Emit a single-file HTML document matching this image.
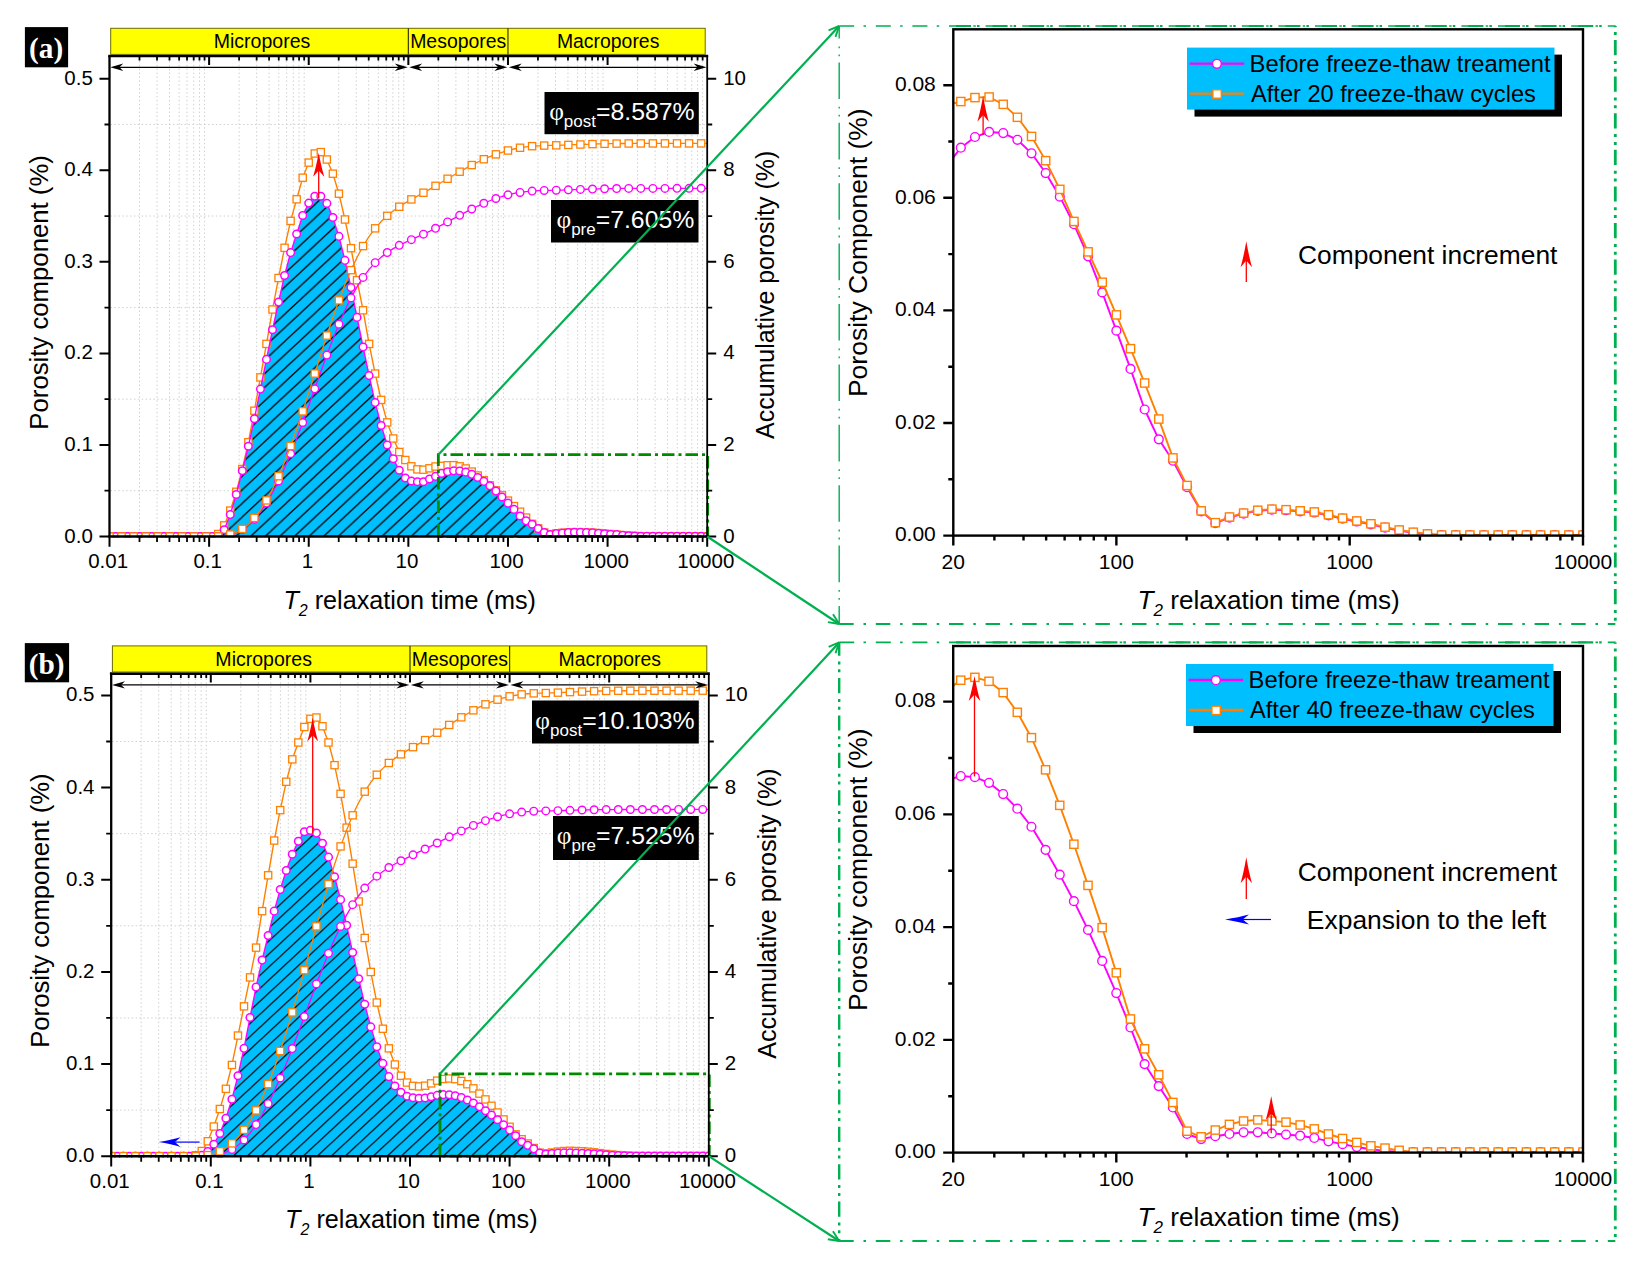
<!DOCTYPE html><html><head><meta charset="utf-8"><title>NMR T2 freeze-thaw</title><style>html,body{margin:0;padding:0;background:#fff}svg{display:block}</style></head><body><svg width="1639" height="1261" viewBox="0 0 1639 1261" font-family="Liberation Sans,sans-serif" fill="#000">
<defs><pattern id="hatcha" x="8.8" y="0" width="14.6" height="13.6" patternUnits="userSpaceOnUse"><path d="M-14.6 13.6L14.6 -13.6M0 13.6L14.6 0M0 27.2L29.2 0" stroke="#000" stroke-width="1.25"/></pattern><pattern id="hatchb" x="8.3" y="0" width="14.0" height="13.0" patternUnits="userSpaceOnUse"><path d="M-14.0 13.0L14.0 -13.0M0 13.0L14.0 0M0 26.0L28.0 0" stroke="#000" stroke-width="1.25"/></pattern></defs>
<rect width="1639" height="1261" fill="#fff"/>
<path d="M839.2 26V624" stroke="#00b050" stroke-width="1.4" stroke-dasharray="36.6 7.8 1.8 6.2 1.8 6.2" stroke-dashoffset="24" fill="none"/>
<path d="M839.2 26H1615.3" stroke="#00b050" stroke-width="1.7" stroke-dasharray="15 9.3 2.5 9.8" fill="none"/>
<path d="M953 26H1615.3" stroke="#00b050" stroke-width="2.2" stroke-dasharray="15 6 2.5 13.1" stroke-dashoffset="-3" fill="none"/>
<path d="M839.2 624H1615.3" stroke="#00b050" stroke-width="2.1" stroke-dasharray="14.5 9.8 2.5 9.8" fill="none"/>
<path d="M1615.3 26V624" stroke="#00b050" stroke-width="2.8" stroke-dasharray="15.2 5.7 3 4.8 3 4.9" stroke-dashoffset="-14" fill="none"/>
<path d="M839.2 642.4V1241" stroke="#00b050" stroke-width="2.4" stroke-dasharray="15.2 5.7 3 4.8 3 5.7" stroke-dashoffset="1.8" fill="none"/>
<path d="M839.2 642.4H1615.3" stroke="#00b050" stroke-width="1.7" stroke-dasharray="15 9.3 2.5 9.8" fill="none"/>
<path d="M953 642.4H1615.3" stroke="#00b050" stroke-width="2.2" stroke-dasharray="15 6 2.5 13.1" stroke-dashoffset="-3" fill="none"/>
<path d="M839.2 1241H1615.3" stroke="#00b050" stroke-width="2.1" stroke-dasharray="14.5 9.8 2.5 9.8" fill="none"/>
<path d="M1615.3 642.4V1241" stroke="#00b050" stroke-width="2.8" stroke-dasharray="15.2 5.7 3 4.8 3 4.9" stroke-dashoffset="-14" fill="none"/>
<path d="M139.49 57V535.5M157.03 57V535.5M169.48 57V535.5M179.13 57V535.5M187.02 57V535.5M193.69 57V535.5M199.46 57V535.5M204.56 57V535.5M239.1 57V535.5M256.65 57V535.5M269.09 57V535.5M278.75 57V535.5M286.63 57V535.5M293.3 57V535.5M299.08 57V535.5M304.18 57V535.5M338.72 57V535.5M356.26 57V535.5M368.71 57V535.5M378.36 57V535.5M386.25 57V535.5M392.92 57V535.5M398.7 57V535.5M403.79 57V535.5M438.34 57V535.5M455.88 57V535.5M468.33 57V535.5M477.98 57V535.5M485.87 57V535.5M492.54 57V535.5M498.31 57V535.5M503.41 57V535.5M537.95 57V535.5M555.5 57V535.5M567.94 57V535.5M577.6 57V535.5M585.48 57V535.5M592.15 57V535.5M597.93 57V535.5M603.03 57V535.5M637.57 57V535.5M655.11 57V535.5M667.56 57V535.5M677.21 57V535.5M685.1 57V535.5M691.77 57V535.5M697.55 57V535.5M702.64 57V535.5M110.5 490.72H706.2M110.5 399.16H706.2M110.5 307.6H706.2M110.5 216.04H706.2M110.5 124.48H706.2" stroke="#d0d0d0" stroke-width="1" stroke-dasharray="1.5 2.4" fill="none"/>
<clipPath id="cla"><rect x="109.5" y="56" width="597.7" height="482"/></clipPath>
<g clip-path="url(#cla)">
<path d="M109.5 536.5L109.5 536.5L115.54 536.5L121.57 536.5L127.61 536.5L133.65 536.5L139.69 536.5L145.72 536.5L151.76 536.5L157.8 536.5L163.84 536.5L169.87 536.5L175.91 536.5L181.95 536.5L187.99 536.5L194.02 536.5L200.06 536.5L206.1 536.5L212.14 536.5L218.17 536.5L224.21 529.8L230.25 514.6L236.28 494.5L242.32 470.7L248.36 446.3L254.4 418.7L260.43 389.1L266.47 359.4L272.51 329.8L278.55 302.1L284.58 275.5L290.62 252.6L296.66 234L302.7 215.5L308.73 203.1L314.77 196.3L320.81 196.3L326.85 203.4L332.88 217.5L338.92 236.4L344.96 260.4L350.99 287.6L357.03 317.4L363.07 347L369.11 375.6L375.14 402.6L381.18 425.5L387.22 445L393.26 458.7L399.29 470.3L405.33 478L411.37 481L417.41 481.8L423.44 481.7L429.48 479L435.52 476.4L441.56 473.42L447.59 471.68L453.63 470.85L459.67 471.03L465.71 472.13L471.74 474.33L477.78 477.54L483.82 481.38L489.85 485.87L495.89 491.09L501.93 496.95L507.97 503.17L514 509.4L520.04 515.99L526.08 520.84L532.12 524.32L538.15 528.63L544.19 532.56L550.23 534.49L556.27 533.57L562.3 532.93L568.34 532.47L574.38 532.29L580.42 532.38L586.45 532.56L592.49 532.75L598.53 533.2L604.56 533.75L610.6 534.21L616.64 534.67L622.68 535.22L628.71 535.68L634.75 536.04L640.79 536.32L646.83 536.41L652.86 536.41L658.9 536.41L664.94 536.41L670.98 536.41L677.01 536.41L683.05 536.41L689.09 536.41L695.13 536.41L701.16 536.41L707.2 536.41L707.2 536.5Z" fill="#00bfff"/>
<path d="M109.5 536.5L109.5 536.5L115.54 536.5L121.57 536.5L127.61 536.5L133.65 536.5L139.69 536.5L145.72 536.5L151.76 536.5L157.8 536.5L163.84 536.5L169.87 536.5L175.91 536.5L181.95 536.5L187.99 536.5L194.02 536.5L200.06 536.5L206.1 536.5L212.14 536.5L218.17 536.5L224.21 529.8L230.25 514.6L236.28 494.5L242.32 470.7L248.36 446.3L254.4 418.7L260.43 389.1L266.47 359.4L272.51 329.8L278.55 302.1L284.58 275.5L290.62 252.6L296.66 234L302.7 215.5L308.73 203.1L314.77 196.3L320.81 196.3L326.85 203.4L332.88 217.5L338.92 236.4L344.96 260.4L350.99 287.6L357.03 317.4L363.07 347L369.11 375.6L375.14 402.6L381.18 425.5L387.22 445L393.26 458.7L399.29 470.3L405.33 478L411.37 481L417.41 481.8L423.44 481.7L429.48 479L435.52 476.4L441.56 473.42L447.59 471.68L453.63 470.85L459.67 471.03L465.71 472.13L471.74 474.33L477.78 477.54L483.82 481.38L489.85 485.87L495.89 491.09L501.93 496.95L507.97 503.17L514 509.4L520.04 515.99L526.08 520.84L532.12 524.32L538.15 528.63L544.19 532.56L550.23 534.49L556.27 533.57L562.3 532.93L568.34 532.47L574.38 532.29L580.42 532.38L586.45 532.56L592.49 532.75L598.53 533.2L604.56 533.75L610.6 534.21L616.64 534.67L622.68 535.22L628.71 535.68L634.75 536.04L640.79 536.32L646.83 536.41L652.86 536.41L658.9 536.41L664.94 536.41L670.98 536.41L677.01 536.41L683.05 536.41L689.09 536.41L695.13 536.41L701.16 536.41L707.2 536.41L707.2 536.5Z" fill="url(#hatcha)"/>
<polyline fill="none" stroke="#ff8000" stroke-width="1.4" stroke-linejoin="round" points="109.5,536.5 115.54,536.5 121.57,536.5 127.61,536.5 133.65,536.5 139.69,536.5 145.72,536.5 151.76,536.5 157.8,536.5 163.84,536.5 169.87,536.5 175.91,536.5 181.95,536.5 187.99,536.5 194.02,536.5 200.06,536.5 206.1,536.5 212.14,536.5 218.17,534 224.21,525.4 230.25,510.6 236.28,491.8 242.32,469 248.36,442.2 254.4,410.7 260.43,377.4 266.47,343.9 272.51,309.5 278.55,278 284.58,247.8 290.62,220.9 296.66,199.3 302.7,177.7 308.73,162.6 314.77,153.5 320.81,152.1 326.85,159.5 332.88,173.7 338.92,193.7 344.96,219.5 350.99,248.2 357.03,280.2 363.07,310.3 369.11,343.9 375.14,373.6 381.18,399.9 387.22,422.4 393.26,438.5 399.29,452 405.33,460 411.37,466.3 417.41,469.4 423.44,469.7 429.48,468.3 435.52,466.5 441.56,465.91 447.59,465.27 453.63,465.17 459.67,466.37 465.71,468.47 471.74,471.58 477.78,475.52 483.82,480.19 489.85,485.41 495.89,490.35 501.93,495.3 507.97,500.61 514,506.1 520.04,511.69 526.08,517.55 532.12,523.86 538.15,528.35 544.19,532.47 550.23,534.39 556.27,533.48 562.3,532.84 568.34,532.38 574.38,532.2 580.42,532.29 586.45,532.47 592.49,532.65 598.53,533.11 604.56,533.66 610.6,534.12 616.64,534.58 622.68,535.13 628.71,535.58 634.75,535.95 640.79,536.23 646.83,536.41 652.86,536.41 658.9,536.41 664.94,536.41 670.98,536.41 677.01,536.41 683.05,536.41 689.09,536.41 695.13,536.41 701.16,536.41 707.2,536.41"/>
<g fill="#fff" stroke="#ff8000" stroke-width="1.3"><rect x="105.9" y="532.9" width="7.2" height="7.2"/><rect x="111.94" y="532.9" width="7.2" height="7.2"/><rect x="117.97" y="532.9" width="7.2" height="7.2"/><rect x="124.01" y="532.9" width="7.2" height="7.2"/><rect x="130.05" y="532.9" width="7.2" height="7.2"/><rect x="136.09" y="532.9" width="7.2" height="7.2"/><rect x="142.12" y="532.9" width="7.2" height="7.2"/><rect x="148.16" y="532.9" width="7.2" height="7.2"/><rect x="154.2" y="532.9" width="7.2" height="7.2"/><rect x="160.24" y="532.9" width="7.2" height="7.2"/><rect x="166.27" y="532.9" width="7.2" height="7.2"/><rect x="172.31" y="532.9" width="7.2" height="7.2"/><rect x="178.35" y="532.9" width="7.2" height="7.2"/><rect x="184.39" y="532.9" width="7.2" height="7.2"/><rect x="190.42" y="532.9" width="7.2" height="7.2"/><rect x="196.46" y="532.9" width="7.2" height="7.2"/><rect x="202.5" y="532.9" width="7.2" height="7.2"/><rect x="208.54" y="532.9" width="7.2" height="7.2"/><rect x="214.57" y="530.4" width="7.2" height="7.2"/><rect x="220.61" y="521.8" width="7.2" height="7.2"/><rect x="226.65" y="507" width="7.2" height="7.2"/><rect x="232.68" y="488.2" width="7.2" height="7.2"/><rect x="238.72" y="465.4" width="7.2" height="7.2"/><rect x="244.76" y="438.6" width="7.2" height="7.2"/><rect x="250.8" y="407.1" width="7.2" height="7.2"/><rect x="256.83" y="373.8" width="7.2" height="7.2"/><rect x="262.87" y="340.3" width="7.2" height="7.2"/><rect x="268.91" y="305.9" width="7.2" height="7.2"/><rect x="274.95" y="274.4" width="7.2" height="7.2"/><rect x="280.98" y="244.2" width="7.2" height="7.2"/><rect x="287.02" y="217.3" width="7.2" height="7.2"/><rect x="293.06" y="195.7" width="7.2" height="7.2"/><rect x="299.1" y="174.1" width="7.2" height="7.2"/><rect x="305.13" y="159" width="7.2" height="7.2"/><rect x="311.17" y="149.9" width="7.2" height="7.2"/><rect x="317.21" y="148.5" width="7.2" height="7.2"/><rect x="323.25" y="155.9" width="7.2" height="7.2"/><rect x="329.28" y="170.1" width="7.2" height="7.2"/><rect x="335.32" y="190.1" width="7.2" height="7.2"/><rect x="341.36" y="215.9" width="7.2" height="7.2"/><rect x="347.39" y="244.6" width="7.2" height="7.2"/><rect x="353.43" y="276.6" width="7.2" height="7.2"/><rect x="359.47" y="306.7" width="7.2" height="7.2"/><rect x="365.51" y="340.3" width="7.2" height="7.2"/><rect x="371.54" y="370" width="7.2" height="7.2"/><rect x="377.58" y="396.3" width="7.2" height="7.2"/><rect x="383.62" y="418.8" width="7.2" height="7.2"/><rect x="389.66" y="434.9" width="7.2" height="7.2"/><rect x="395.69" y="448.4" width="7.2" height="7.2"/><rect x="401.73" y="456.4" width="7.2" height="7.2"/><rect x="407.77" y="462.7" width="7.2" height="7.2"/><rect x="413.81" y="465.8" width="7.2" height="7.2"/><rect x="419.84" y="466.1" width="7.2" height="7.2"/><rect x="425.88" y="464.7" width="7.2" height="7.2"/><rect x="431.92" y="462.9" width="7.2" height="7.2"/><rect x="437.96" y="462.31" width="7.2" height="7.2"/><rect x="443.99" y="461.67" width="7.2" height="7.2"/><rect x="450.03" y="461.57" width="7.2" height="7.2"/><rect x="456.07" y="462.77" width="7.2" height="7.2"/><rect x="462.11" y="464.87" width="7.2" height="7.2"/><rect x="468.14" y="467.98" width="7.2" height="7.2"/><rect x="474.18" y="471.92" width="7.2" height="7.2"/><rect x="480.22" y="476.59" width="7.2" height="7.2"/><rect x="486.25" y="481.81" width="7.2" height="7.2"/><rect x="492.29" y="486.75" width="7.2" height="7.2"/><rect x="498.33" y="491.7" width="7.2" height="7.2"/><rect x="504.37" y="497.01" width="7.2" height="7.2"/><rect x="510.4" y="502.5" width="7.2" height="7.2"/><rect x="516.44" y="508.09" width="7.2" height="7.2"/><rect x="522.48" y="513.95" width="7.2" height="7.2"/><rect x="528.52" y="520.26" width="7.2" height="7.2"/><rect x="534.55" y="524.75" width="7.2" height="7.2"/><rect x="540.59" y="528.87" width="7.2" height="7.2"/><rect x="546.63" y="530.79" width="7.2" height="7.2"/><rect x="552.67" y="529.88" width="7.2" height="7.2"/><rect x="558.7" y="529.24" width="7.2" height="7.2"/><rect x="564.74" y="528.78" width="7.2" height="7.2"/><rect x="570.78" y="528.6" width="7.2" height="7.2"/><rect x="576.82" y="528.69" width="7.2" height="7.2"/><rect x="582.85" y="528.87" width="7.2" height="7.2"/><rect x="588.89" y="529.05" width="7.2" height="7.2"/><rect x="594.93" y="529.51" width="7.2" height="7.2"/><rect x="600.96" y="530.06" width="7.2" height="7.2"/><rect x="607" y="530.52" width="7.2" height="7.2"/><rect x="613.04" y="530.98" width="7.2" height="7.2"/><rect x="619.08" y="531.53" width="7.2" height="7.2"/><rect x="625.11" y="531.98" width="7.2" height="7.2"/><rect x="631.15" y="532.35" width="7.2" height="7.2"/><rect x="637.19" y="532.63" width="7.2" height="7.2"/><rect x="643.23" y="532.81" width="7.2" height="7.2"/><rect x="649.26" y="532.81" width="7.2" height="7.2"/><rect x="655.3" y="532.81" width="7.2" height="7.2"/><rect x="661.34" y="532.81" width="7.2" height="7.2"/><rect x="667.38" y="532.81" width="7.2" height="7.2"/><rect x="673.41" y="532.81" width="7.2" height="7.2"/><rect x="679.45" y="532.81" width="7.2" height="7.2"/><rect x="685.49" y="532.81" width="7.2" height="7.2"/><rect x="691.53" y="532.81" width="7.2" height="7.2"/><rect x="697.56" y="532.81" width="7.2" height="7.2"/><rect x="703.6" y="532.81" width="7.2" height="7.2"/></g>
<polyline fill="none" stroke="#ff00ff" stroke-width="1.4" stroke-linejoin="round" points="109.5,536.5 115.54,536.5 121.57,536.5 127.61,536.5 133.65,536.5 139.69,536.5 145.72,536.5 151.76,536.5 157.8,536.5 163.84,536.5 169.87,536.5 175.91,536.5 181.95,536.5 187.99,536.5 194.02,536.5 200.06,536.5 206.1,536.5 212.14,536.5 218.17,536.5 224.21,529.8 230.25,514.6 236.28,494.5 242.32,470.7 248.36,446.3 254.4,418.7 260.43,389.1 266.47,359.4 272.51,329.8 278.55,302.1 284.58,275.5 290.62,252.6 296.66,234 302.7,215.5 308.73,203.1 314.77,196.3 320.81,196.3 326.85,203.4 332.88,217.5 338.92,236.4 344.96,260.4 350.99,287.6 357.03,317.4 363.07,347 369.11,375.6 375.14,402.6 381.18,425.5 387.22,445 393.26,458.7 399.29,470.3 405.33,478 411.37,481 417.41,481.8 423.44,481.7 429.48,479 435.52,476.4 441.56,473.42 447.59,471.68 453.63,470.85 459.67,471.03 465.71,472.13 471.74,474.33 477.78,477.54 483.82,481.38 489.85,485.87 495.89,491.09 501.93,496.95 507.97,503.17 514,509.4 520.04,515.99 526.08,520.84 532.12,524.32 538.15,528.63 544.19,532.56 550.23,534.49 556.27,533.57 562.3,532.93 568.34,532.47 574.38,532.29 580.42,532.38 586.45,532.56 592.49,532.75 598.53,533.2 604.56,533.75 610.6,534.21 616.64,534.67 622.68,535.22 628.71,535.68 634.75,536.04 640.79,536.32 646.83,536.41 652.86,536.41 658.9,536.41 664.94,536.41 670.98,536.41 677.01,536.41 683.05,536.41 689.09,536.41 695.13,536.41 701.16,536.41 707.2,536.41"/>
<g fill="#fff" stroke="#ff00ff" stroke-width="1.5"><circle cx="109.5" cy="536.5" r="3.8"/><circle cx="115.54" cy="536.5" r="3.8"/><circle cx="121.57" cy="536.5" r="3.8"/><circle cx="127.61" cy="536.5" r="3.8"/><circle cx="133.65" cy="536.5" r="3.8"/><circle cx="139.69" cy="536.5" r="3.8"/><circle cx="145.72" cy="536.5" r="3.8"/><circle cx="151.76" cy="536.5" r="3.8"/><circle cx="157.8" cy="536.5" r="3.8"/><circle cx="163.84" cy="536.5" r="3.8"/><circle cx="169.87" cy="536.5" r="3.8"/><circle cx="175.91" cy="536.5" r="3.8"/><circle cx="181.95" cy="536.5" r="3.8"/><circle cx="187.99" cy="536.5" r="3.8"/><circle cx="194.02" cy="536.5" r="3.8"/><circle cx="200.06" cy="536.5" r="3.8"/><circle cx="206.1" cy="536.5" r="3.8"/><circle cx="212.14" cy="536.5" r="3.8"/><circle cx="218.17" cy="536.5" r="3.8"/><circle cx="224.21" cy="529.8" r="3.8"/><circle cx="230.25" cy="514.6" r="3.8"/><circle cx="236.28" cy="494.5" r="3.8"/><circle cx="242.32" cy="470.7" r="3.8"/><circle cx="248.36" cy="446.3" r="3.8"/><circle cx="254.4" cy="418.7" r="3.8"/><circle cx="260.43" cy="389.1" r="3.8"/><circle cx="266.47" cy="359.4" r="3.8"/><circle cx="272.51" cy="329.8" r="3.8"/><circle cx="278.55" cy="302.1" r="3.8"/><circle cx="284.58" cy="275.5" r="3.8"/><circle cx="290.62" cy="252.6" r="3.8"/><circle cx="296.66" cy="234" r="3.8"/><circle cx="302.7" cy="215.5" r="3.8"/><circle cx="308.73" cy="203.1" r="3.8"/><circle cx="314.77" cy="196.3" r="3.8"/><circle cx="320.81" cy="196.3" r="3.8"/><circle cx="326.85" cy="203.4" r="3.8"/><circle cx="332.88" cy="217.5" r="3.8"/><circle cx="338.92" cy="236.4" r="3.8"/><circle cx="344.96" cy="260.4" r="3.8"/><circle cx="350.99" cy="287.6" r="3.8"/><circle cx="357.03" cy="317.4" r="3.8"/><circle cx="363.07" cy="347" r="3.8"/><circle cx="369.11" cy="375.6" r="3.8"/><circle cx="375.14" cy="402.6" r="3.8"/><circle cx="381.18" cy="425.5" r="3.8"/><circle cx="387.22" cy="445" r="3.8"/><circle cx="393.26" cy="458.7" r="3.8"/><circle cx="399.29" cy="470.3" r="3.8"/><circle cx="405.33" cy="478" r="3.8"/><circle cx="411.37" cy="481" r="3.8"/><circle cx="417.41" cy="481.8" r="3.8"/><circle cx="423.44" cy="481.7" r="3.8"/><circle cx="429.48" cy="479" r="3.8"/><circle cx="435.52" cy="476.4" r="3.8"/><circle cx="441.56" cy="473.42" r="3.8"/><circle cx="447.59" cy="471.68" r="3.8"/><circle cx="453.63" cy="470.85" r="3.8"/><circle cx="459.67" cy="471.03" r="3.8"/><circle cx="465.71" cy="472.13" r="3.8"/><circle cx="471.74" cy="474.33" r="3.8"/><circle cx="477.78" cy="477.54" r="3.8"/><circle cx="483.82" cy="481.38" r="3.8"/><circle cx="489.85" cy="485.87" r="3.8"/><circle cx="495.89" cy="491.09" r="3.8"/><circle cx="501.93" cy="496.95" r="3.8"/><circle cx="507.97" cy="503.17" r="3.8"/><circle cx="514" cy="509.4" r="3.8"/><circle cx="520.04" cy="515.99" r="3.8"/><circle cx="526.08" cy="520.84" r="3.8"/><circle cx="532.12" cy="524.32" r="3.8"/><circle cx="538.15" cy="528.63" r="3.8"/><circle cx="544.19" cy="532.56" r="3.8"/><circle cx="550.23" cy="534.49" r="3.8"/><circle cx="556.27" cy="533.57" r="3.8"/><circle cx="562.3" cy="532.93" r="3.8"/><circle cx="568.34" cy="532.47" r="3.8"/><circle cx="574.38" cy="532.29" r="3.8"/><circle cx="580.42" cy="532.38" r="3.8"/><circle cx="586.45" cy="532.56" r="3.8"/><circle cx="592.49" cy="532.75" r="3.8"/><circle cx="598.53" cy="533.2" r="3.8"/><circle cx="604.56" cy="533.75" r="3.8"/><circle cx="610.6" cy="534.21" r="3.8"/><circle cx="616.64" cy="534.67" r="3.8"/><circle cx="622.68" cy="535.22" r="3.8"/><circle cx="628.71" cy="535.68" r="3.8"/><circle cx="634.75" cy="536.04" r="3.8"/><circle cx="640.79" cy="536.32" r="3.8"/><circle cx="646.83" cy="536.41" r="3.8"/><circle cx="652.86" cy="536.41" r="3.8"/><circle cx="658.9" cy="536.41" r="3.8"/><circle cx="664.94" cy="536.41" r="3.8"/><circle cx="670.98" cy="536.41" r="3.8"/><circle cx="677.01" cy="536.41" r="3.8"/><circle cx="683.05" cy="536.41" r="3.8"/><circle cx="689.09" cy="536.41" r="3.8"/><circle cx="695.13" cy="536.41" r="3.8"/><circle cx="701.16" cy="536.41" r="3.8"/><circle cx="707.2" cy="536.41" r="3.8"/></g>
<polyline fill="none" stroke="#ff00ff" stroke-width="1.3" stroke-linejoin="round" points="109.5,536.5 115.54,536.5 121.57,536.5 127.61,536.5 133.65,536.5 139.69,536.5 145.72,536.5 151.76,536.5 157.8,536.5 163.84,536.5 169.87,536.5 175.91,536.5 181.95,536.5 187.99,536.5 194.02,536.5 200.06,536.5 206.1,536.5 212.14,536.5 218.17,536.5 224.21,536.16 230.25,535.07 236.28,532.97 242.32,529.68 248.36,525.16 254.4,519.27 260.43,511.89 266.47,503.03 272.51,492.69 278.55,480.96 284.58,467.91 290.62,453.7 296.66,438.57 302.7,422.51 308.73,405.83 314.77,388.81 320.81,371.79 326.85,355.12 332.88,339.16 338.92,324.15 344.96,310.33 350.99,297.88 357.03,286.92 363.07,277.44 369.11,269.39 375.14,262.69 381.18,257.13 387.22,252.55 393.26,248.66 399.29,245.35 405.33,242.42 411.37,239.65 417.41,236.91 423.44,234.17 429.48,231.29 435.52,228.28 441.56,225.13 447.59,221.88 453.63,218.6 459.67,215.32 465.71,212.1 471.74,208.99 477.78,206.04 483.82,203.29 489.85,200.75 495.89,198.48 501.93,196.5 507.97,194.83 514,193.48 520.04,192.45 526.08,191.67 532.12,191.06 538.15,190.67 544.19,190.47 550.23,190.37 556.27,190.22 562.3,190.04 568.34,189.84 574.38,189.63 580.42,189.42 586.45,189.23 592.49,189.04 598.53,188.87 604.56,188.74 610.6,188.62 616.64,188.53 622.68,188.47 628.71,188.43 634.75,188.4 640.79,188.39 646.83,188.39 652.86,188.38 658.9,188.38 664.94,188.38 670.98,188.37 677.01,188.37 683.05,188.36 689.09,188.36 695.13,188.35 701.16,188.35 707.2,188.34"/>
<g fill="#fff" stroke="#ff00ff" stroke-width="1.4"><circle cx="109.5" cy="536.5" r="3.8"/><circle cx="121.57" cy="536.5" r="3.8"/><circle cx="133.65" cy="536.5" r="3.8"/><circle cx="145.72" cy="536.5" r="3.8"/><circle cx="157.8" cy="536.5" r="3.8"/><circle cx="169.87" cy="536.5" r="3.8"/><circle cx="181.95" cy="536.5" r="3.8"/><circle cx="194.02" cy="536.5" r="3.8"/><circle cx="206.1" cy="536.5" r="3.8"/><circle cx="218.17" cy="536.5" r="3.8"/><circle cx="230.25" cy="535.07" r="3.8"/><circle cx="242.32" cy="529.68" r="3.8"/><circle cx="254.4" cy="519.27" r="3.8"/><circle cx="266.47" cy="503.03" r="3.8"/><circle cx="278.55" cy="480.96" r="3.8"/><circle cx="290.62" cy="453.7" r="3.8"/><circle cx="302.7" cy="422.51" r="3.8"/><circle cx="314.77" cy="388.81" r="3.8"/><circle cx="326.85" cy="355.12" r="3.8"/><circle cx="338.92" cy="324.15" r="3.8"/><circle cx="350.99" cy="297.88" r="3.8"/><circle cx="363.07" cy="277.44" r="3.8"/><circle cx="375.14" cy="262.69" r="3.8"/><circle cx="387.22" cy="252.55" r="3.8"/><circle cx="399.29" cy="245.35" r="3.8"/><circle cx="411.37" cy="239.65" r="3.8"/><circle cx="423.44" cy="234.17" r="3.8"/><circle cx="435.52" cy="228.28" r="3.8"/><circle cx="447.59" cy="221.88" r="3.8"/><circle cx="459.67" cy="215.32" r="3.8"/><circle cx="471.74" cy="208.99" r="3.8"/><circle cx="483.82" cy="203.29" r="3.8"/><circle cx="495.89" cy="198.48" r="3.8"/><circle cx="507.97" cy="194.83" r="3.8"/><circle cx="520.04" cy="192.45" r="3.8"/><circle cx="532.12" cy="191.06" r="3.8"/><circle cx="544.19" cy="190.47" r="3.8"/><circle cx="556.27" cy="190.22" r="3.8"/><circle cx="568.34" cy="189.84" r="3.8"/><circle cx="580.42" cy="189.42" r="3.8"/><circle cx="592.49" cy="189.04" r="3.8"/><circle cx="604.56" cy="188.74" r="3.8"/><circle cx="616.64" cy="188.53" r="3.8"/><circle cx="628.71" cy="188.43" r="3.8"/><circle cx="640.79" cy="188.39" r="3.8"/><circle cx="652.86" cy="188.38" r="3.8"/><circle cx="664.94" cy="188.38" r="3.8"/><circle cx="677.01" cy="188.37" r="3.8"/><circle cx="689.09" cy="188.36" r="3.8"/><circle cx="701.16" cy="188.35" r="3.8"/></g>
<polyline fill="none" stroke="#ff8000" stroke-width="1.3" stroke-linejoin="round" points="109.5,536.5 115.54,536.5 121.57,536.5 127.61,536.5 133.65,536.5 139.69,536.5 145.72,536.5 151.76,536.5 157.8,536.5 163.84,536.5 169.87,536.5 175.91,536.5 181.95,536.5 187.99,536.5 194.02,536.5 200.06,536.5 206.1,536.5 212.14,536.5 218.17,536.38 224.21,535.82 230.25,534.53 236.28,532.3 242.32,528.93 248.36,524.23 254.4,517.95 260.43,510.01 266.47,500.4 272.51,489.08 278.55,476.18 284.58,461.78 290.62,446.03 296.66,429.21 302.7,411.31 308.73,392.65 314.77,373.54 320.81,354.36 326.85,335.55 332.88,317.45 338.92,300.35 344.96,284.54 350.99,270.15 357.03,257.36 363.07,246.08 369.11,236.47 375.14,228.34 381.18,221.53 387.22,215.83 393.26,210.94 399.29,206.73 405.33,202.91 411.37,199.41 417.41,196.06 423.44,192.73 429.48,189.33 435.52,185.83 441.56,182.31 447.59,178.76 453.63,175.2 459.67,171.7 465.71,168.31 471.74,165.07 477.78,162.03 483.82,159.22 489.85,156.67 495.89,154.36 501.93,152.31 507.97,150.52 514,149 520.04,147.76 526.08,146.82 532.12,146.19 538.15,145.78 544.19,145.58 550.23,145.47 556.27,145.32 562.3,145.14 568.34,144.94 574.38,144.72 580.42,144.51 586.45,144.31 592.49,144.12 598.53,143.95 604.56,143.81 610.6,143.69 616.64,143.59 622.68,143.52 628.71,143.48 634.75,143.45 640.79,143.44 646.83,143.43 652.86,143.43 658.9,143.42 664.94,143.42 670.98,143.41 677.01,143.41 683.05,143.41 689.09,143.4 695.13,143.4 701.16,143.39 707.2,143.39"/>
<g fill="#fff" stroke="#ff8000" stroke-width="1.3"><rect x="105.9" y="532.9" width="7.2" height="7.2"/><rect x="117.97" y="532.9" width="7.2" height="7.2"/><rect x="130.05" y="532.9" width="7.2" height="7.2"/><rect x="142.12" y="532.9" width="7.2" height="7.2"/><rect x="154.2" y="532.9" width="7.2" height="7.2"/><rect x="166.27" y="532.9" width="7.2" height="7.2"/><rect x="178.35" y="532.9" width="7.2" height="7.2"/><rect x="190.42" y="532.9" width="7.2" height="7.2"/><rect x="202.5" y="532.9" width="7.2" height="7.2"/><rect x="214.57" y="532.78" width="7.2" height="7.2"/><rect x="226.65" y="530.93" width="7.2" height="7.2"/><rect x="238.72" y="525.33" width="7.2" height="7.2"/><rect x="250.8" y="514.35" width="7.2" height="7.2"/><rect x="262.87" y="496.8" width="7.2" height="7.2"/><rect x="274.95" y="472.58" width="7.2" height="7.2"/><rect x="287.02" y="442.43" width="7.2" height="7.2"/><rect x="299.1" y="407.71" width="7.2" height="7.2"/><rect x="311.17" y="369.94" width="7.2" height="7.2"/><rect x="323.25" y="331.95" width="7.2" height="7.2"/><rect x="335.32" y="296.75" width="7.2" height="7.2"/><rect x="347.39" y="266.55" width="7.2" height="7.2"/><rect x="359.47" y="242.48" width="7.2" height="7.2"/><rect x="371.54" y="224.74" width="7.2" height="7.2"/><rect x="383.62" y="212.23" width="7.2" height="7.2"/><rect x="395.69" y="203.13" width="7.2" height="7.2"/><rect x="407.77" y="195.81" width="7.2" height="7.2"/><rect x="419.84" y="189.13" width="7.2" height="7.2"/><rect x="431.92" y="182.23" width="7.2" height="7.2"/><rect x="443.99" y="175.16" width="7.2" height="7.2"/><rect x="456.07" y="168.1" width="7.2" height="7.2"/><rect x="468.14" y="161.47" width="7.2" height="7.2"/><rect x="480.22" y="155.62" width="7.2" height="7.2"/><rect x="492.29" y="150.76" width="7.2" height="7.2"/><rect x="504.37" y="146.92" width="7.2" height="7.2"/><rect x="516.44" y="144.16" width="7.2" height="7.2"/><rect x="528.52" y="142.59" width="7.2" height="7.2"/><rect x="540.59" y="141.98" width="7.2" height="7.2"/><rect x="552.67" y="141.72" width="7.2" height="7.2"/><rect x="564.74" y="141.34" width="7.2" height="7.2"/><rect x="576.82" y="140.91" width="7.2" height="7.2"/><rect x="588.89" y="140.52" width="7.2" height="7.2"/><rect x="600.96" y="140.21" width="7.2" height="7.2"/><rect x="613.04" y="139.99" width="7.2" height="7.2"/><rect x="625.11" y="139.88" width="7.2" height="7.2"/><rect x="637.19" y="139.84" width="7.2" height="7.2"/><rect x="649.26" y="139.83" width="7.2" height="7.2"/><rect x="661.34" y="139.82" width="7.2" height="7.2"/><rect x="673.41" y="139.81" width="7.2" height="7.2"/><rect x="685.49" y="139.8" width="7.2" height="7.2"/><rect x="697.56" y="139.79" width="7.2" height="7.2"/></g>
</g>
<path d="M438.34 536.5V454.65H707.7V536.5Z" fill="none" stroke="#008a00" stroke-width="2.8" stroke-dasharray="12.5 4 3 4"/>
<path d="M108.2 56H708.2" stroke="#000" stroke-width="2.6" fill="none"/>
<path d="M108.2 536.5H708.2" stroke="#000" stroke-width="2.5" fill="none"/>
<path d="M109.5 56V536.5" stroke="#000" stroke-width="2.3" fill="none"/>
<path d="M707.2 56V536.5" stroke="#000" stroke-width="1.8" fill="none"/>
<path d="M109.5 536.5v10.3M209.12 536.5v10.3M209.12 56v9M308.73 536.5v10.3M308.73 56v9M408.35 536.5v10.3M408.35 56v9M507.97 536.5v10.3M507.97 56v9M607.58 536.5v10.3M607.58 56v9M707.2 536.5v10.3M109.5 536.5h-10M707.2 536.5h9M109.5 444.94h-10M707.2 444.94h9M109.5 353.38h-10M707.2 353.38h9M109.5 261.82h-10M707.2 261.82h9M109.5 170.26h-10M707.2 170.26h9M109.5 78.7h-10M707.2 78.7h9" stroke="#000" stroke-width="2" fill="none"/>
<path d="M139.49 536.5v5.5M139.49 56v4.5M157.03 536.5v5.5M157.03 56v4.5M169.48 536.5v5.5M169.48 56v4.5M179.13 536.5v5.5M179.13 56v4.5M187.02 536.5v5.5M187.02 56v4.5M193.69 536.5v5.5M193.69 56v4.5M199.46 536.5v5.5M199.46 56v4.5M204.56 536.5v5.5M204.56 56v4.5M239.1 536.5v5.5M239.1 56v4.5M256.65 536.5v5.5M256.65 56v4.5M269.09 536.5v5.5M269.09 56v4.5M278.75 536.5v5.5M278.75 56v4.5M286.63 536.5v5.5M286.63 56v4.5M293.3 536.5v5.5M293.3 56v4.5M299.08 536.5v5.5M299.08 56v4.5M304.18 536.5v5.5M304.18 56v4.5M338.72 536.5v5.5M338.72 56v4.5M356.26 536.5v5.5M356.26 56v4.5M368.71 536.5v5.5M368.71 56v4.5M378.36 536.5v5.5M378.36 56v4.5M386.25 536.5v5.5M386.25 56v4.5M392.92 536.5v5.5M392.92 56v4.5M398.7 536.5v5.5M398.7 56v4.5M403.79 536.5v5.5M403.79 56v4.5M438.34 536.5v5.5M438.34 56v4.5M455.88 536.5v5.5M455.88 56v4.5M468.33 536.5v5.5M468.33 56v4.5M477.98 536.5v5.5M477.98 56v4.5M485.87 536.5v5.5M485.87 56v4.5M492.54 536.5v5.5M492.54 56v4.5M498.31 536.5v5.5M498.31 56v4.5M503.41 536.5v5.5M503.41 56v4.5M537.95 536.5v5.5M537.95 56v4.5M555.5 536.5v5.5M555.5 56v4.5M567.94 536.5v5.5M567.94 56v4.5M577.6 536.5v5.5M577.6 56v4.5M585.48 536.5v5.5M585.48 56v4.5M592.15 536.5v5.5M592.15 56v4.5M597.93 536.5v5.5M597.93 56v4.5M603.03 536.5v5.5M603.03 56v4.5M637.57 536.5v5.5M637.57 56v4.5M655.11 536.5v5.5M655.11 56v4.5M667.56 536.5v5.5M667.56 56v4.5M677.21 536.5v5.5M677.21 56v4.5M685.1 536.5v5.5M685.1 56v4.5M691.77 536.5v5.5M691.77 56v4.5M697.55 536.5v5.5M697.55 56v4.5M702.64 536.5v5.5M702.64 56v4.5M109.5 490.72h-5M707.2 490.72h5M109.5 399.16h-5M707.2 399.16h5M109.5 307.6h-5M707.2 307.6h5M109.5 216.04h-5M707.2 216.04h5M109.5 124.48h-5M707.2 124.48h5" stroke="#000" stroke-width="1.8" fill="none"/>
<text x="92.8" y="542.5" font-size="20.5" text-anchor="end">0.0</text>
<text x="92.8" y="450.94" font-size="20.5" text-anchor="end">0.1</text>
<text x="92.8" y="359.38" font-size="20.5" text-anchor="end">0.2</text>
<text x="92.8" y="267.82" font-size="20.5" text-anchor="end">0.3</text>
<text x="92.8" y="176.26" font-size="20.5" text-anchor="end">0.4</text>
<text x="92.8" y="84.7" font-size="20.5" text-anchor="end">0.5</text>
<text x="723.2" y="542.5" font-size="20.5">0</text>
<text x="723.2" y="450.94" font-size="20.5">2</text>
<text x="723.2" y="359.38" font-size="20.5">4</text>
<text x="723.2" y="267.82" font-size="20.5">6</text>
<text x="723.2" y="176.26" font-size="20.5">8</text>
<text x="723.2" y="84.7" font-size="20.5">10</text>
<text x="108.1" y="568.1" font-size="20.5" text-anchor="middle">0.01</text>
<text x="207.72" y="568.1" font-size="20.5" text-anchor="middle">0.1</text>
<text x="307.33" y="568.1" font-size="20.5" text-anchor="middle">1</text>
<text x="406.95" y="568.1" font-size="20.5" text-anchor="middle">10</text>
<text x="506.57" y="568.1" font-size="20.5" text-anchor="middle">100</text>
<text x="606.18" y="568.1" font-size="20.5" text-anchor="middle">1000</text>
<text x="705.8" y="568.1" font-size="20.5" text-anchor="middle">10000</text>
<text transform="translate(47.5,292.1) rotate(-90)" x="-137.56" y="0" font-size="25" textLength="274.5" lengthAdjust="spacingAndGlyphs">Porosity component (%)</text>
<text transform="translate(774.2,295.6) rotate(-90)" x="-143.3" y="0" font-size="25" textLength="288.08" lengthAdjust="spacingAndGlyphs">Accumulative porosity (%)</text>
<text x="283.43" y="608.6" font-size="25.2"><tspan font-style="italic">T</tspan><tspan font-size="16" font-style="italic" dy="7">2</tspan><tspan dy="-7"> relaxation time (ms)</tspan></text>
<rect x="110.7" y="28.3" width="594.5" height="26.1" fill="#ffff00" stroke="#6b6b00" stroke-width="1"/>
<path d="M408.35 28.3V54.4M507.97 28.3V54.4" stroke="#3a3a00" stroke-width="1.2"/>
<text x="213.71" y="48.1" font-size="19.4" textLength="96.57" lengthAdjust="spacingAndGlyphs">Micropores</text>
<text x="410.2" y="48.1" font-size="19.4" textLength="96.07" lengthAdjust="spacingAndGlyphs">Mesopores</text>
<text x="556.93" y="48.1" font-size="19.4" textLength="102.43" lengthAdjust="spacingAndGlyphs">Macropores</text>
<path d="M114.3 67.3H403.75" stroke="#000" stroke-width="1.2"/>
<path d="M110.3 67.3 L123.3 63.6 L119.4 67.3 L123.3 71 Z" fill="#000"/>
<path d="M407.75 67.3 L394.75 63.6 L398.65 67.3 L394.75 71 Z" fill="#000"/>
<path d="M413.15 67.3H503.37" stroke="#000" stroke-width="1.2"/>
<path d="M409.15 67.3 L422.15 63.6 L418.25 67.3 L422.15 71 Z" fill="#000"/>
<path d="M507.37 67.3 L494.37 63.6 L498.27 67.3 L494.37 71 Z" fill="#000"/>
<path d="M512.77 67.3H702.6" stroke="#000" stroke-width="1.2"/>
<path d="M508.77 67.3 L521.77 63.6 L517.87 67.3 L521.77 71 Z" fill="#000"/>
<path d="M706.6 67.3 L693.6 63.6 L697.5 67.3 L693.6 71 Z" fill="#000"/>
<rect x="544.5" y="92" width="154.3" height="42.2" fill="#000"/>
<text x="694.6" y="120.3" font-size="24.8" fill="#fff" text-anchor="end"><tspan font-family="Liberation Serif,serif" font-size="25.5">φ</tspan><tspan font-size="17" dy="6.7">post</tspan><tspan dy="-6.7">=8.587%</tspan></text>
<rect x="551" y="200" width="147.5" height="42.5" fill="#000"/>
<text x="694.3" y="228.3" font-size="24.8" fill="#fff" text-anchor="end"><tspan font-family="Liberation Serif,serif" font-size="25.5">φ</tspan><tspan font-size="17" dy="6.7">pre</tspan><tspan dy="-6.7">=7.605%</tspan></text>
<rect x="24.9" y="27.1" width="43.2" height="40.2" fill="#000"/>
<text x="46.1" y="57.5" font-size="29.3" text-anchor="middle" font-weight="bold" font-family="Liberation Serif,serif" fill="#fff">(a)</text>
<path d="M141.18 674.6V1155.2M158.72 674.6V1155.2M171.17 674.6V1155.2M180.82 674.6V1155.2M188.7 674.6V1155.2M195.37 674.6V1155.2M201.15 674.6V1155.2M206.24 674.6V1155.2M240.78 674.6V1155.2M258.32 674.6V1155.2M270.77 674.6V1155.2M280.42 674.6V1155.2M288.3 674.6V1155.2M294.97 674.6V1155.2M300.75 674.6V1155.2M305.84 674.6V1155.2M340.38 674.6V1155.2M357.92 674.6V1155.2M370.37 674.6V1155.2M380.02 674.6V1155.2M387.9 674.6V1155.2M394.57 674.6V1155.2M400.35 674.6V1155.2M405.44 674.6V1155.2M439.98 674.6V1155.2M457.52 674.6V1155.2M469.97 674.6V1155.2M479.62 674.6V1155.2M487.5 674.6V1155.2M494.17 674.6V1155.2M499.95 674.6V1155.2M505.04 674.6V1155.2M539.58 674.6V1155.2M557.12 674.6V1155.2M569.57 674.6V1155.2M579.22 674.6V1155.2M587.1 674.6V1155.2M593.77 674.6V1155.2M599.55 674.6V1155.2M604.64 674.6V1155.2M639.18 674.6V1155.2M656.72 674.6V1155.2M669.17 674.6V1155.2M678.82 674.6V1155.2M686.7 674.6V1155.2M693.37 674.6V1155.2M699.15 674.6V1155.2M704.24 674.6V1155.2M112.2 1110.12H707.8M112.2 1017.96H707.8M112.2 925.8H707.8M112.2 833.64H707.8M112.2 741.48H707.8" stroke="#d0d0d0" stroke-width="1" stroke-dasharray="1.5 2.4" fill="none"/>
<clipPath id="clb"><rect x="111.2" y="673.6" width="597.6" height="484.1"/></clipPath>
<g clip-path="url(#clb)">
<path d="M111.2 1156.2L111.2 1156.2L117.24 1156.2L123.27 1156.2L129.31 1156.2L135.35 1156.2L141.38 1156.2L147.42 1156.2L153.45 1156.2L159.49 1156.2L165.53 1156.2L171.56 1156.2L177.6 1156.2L183.64 1156.2L189.67 1156.2L195.71 1156.2L201.75 1155.28L207.78 1151.59L213.82 1144.22L219.85 1133.44L225.89 1118.32L231.93 1099.25L237.96 1075.74L244 1048.37L250.04 1017.5L256.07 987.09L262.11 960.08L268.15 935.48L274.18 911.15L280.22 889.58L286.25 870.5L292.29 854.19L298.33 841.2L304.36 831.8L310.4 830.41L316.44 833.09L322.47 843.22L328.51 857.14L334.55 876.68L340.58 899.63L346.62 925.34L352.65 952.43L358.69 978.79L364.73 1004.32L370.76 1026.9L376.8 1046.81L382.84 1063.39L388.87 1076.67L394.91 1086.07L400.95 1092.33L406.98 1096.3L413.02 1097.77L419.05 1098.23L425.09 1097.95L431.13 1096.76L437.16 1095.37L443.2 1094.64L449.24 1094.82L455.27 1095.74L461.31 1097.59L467.35 1099.98L473.38 1102.93L479.42 1106.71L485.45 1110.77L491.49 1115.1L497.53 1119.8L503.56 1124.87L509.6 1130.12L515.64 1135.74L521.67 1141.73L527.71 1145.33L533.75 1148.83L539.78 1153.16L545.82 1153.99L551.85 1153.53L557.89 1153.16L563.93 1152.88L569.96 1152.88L576 1153.07L582.04 1153.25L588.07 1153.44L594.11 1153.8L600.15 1154.36L606.18 1154.82L612.22 1155.28L618.25 1155.65L624.29 1155.92L630.33 1156.11L636.36 1156.11L642.4 1156.11L648.44 1156.11L654.47 1156.11L660.51 1156.11L666.55 1156.11L672.58 1156.11L678.62 1156.11L684.65 1156.11L690.69 1156.11L696.73 1156.11L702.76 1156.11L708.8 1156.11L708.8 1156.2Z" fill="#00bfff"/>
<path d="M111.2 1156.2L111.2 1156.2L117.24 1156.2L123.27 1156.2L129.31 1156.2L135.35 1156.2L141.38 1156.2L147.42 1156.2L153.45 1156.2L159.49 1156.2L165.53 1156.2L171.56 1156.2L177.6 1156.2L183.64 1156.2L189.67 1156.2L195.71 1156.2L201.75 1155.28L207.78 1151.59L213.82 1144.22L219.85 1133.44L225.89 1118.32L231.93 1099.25L237.96 1075.74L244 1048.37L250.04 1017.5L256.07 987.09L262.11 960.08L268.15 935.48L274.18 911.15L280.22 889.58L286.25 870.5L292.29 854.19L298.33 841.2L304.36 831.8L310.4 830.41L316.44 833.09L322.47 843.22L328.51 857.14L334.55 876.68L340.58 899.63L346.62 925.34L352.65 952.43L358.69 978.79L364.73 1004.32L370.76 1026.9L376.8 1046.81L382.84 1063.39L388.87 1076.67L394.91 1086.07L400.95 1092.33L406.98 1096.3L413.02 1097.77L419.05 1098.23L425.09 1097.95L431.13 1096.76L437.16 1095.37L443.2 1094.64L449.24 1094.82L455.27 1095.74L461.31 1097.59L467.35 1099.98L473.38 1102.93L479.42 1106.71L485.45 1110.77L491.49 1115.1L497.53 1119.8L503.56 1124.87L509.6 1130.12L515.64 1135.74L521.67 1141.73L527.71 1145.33L533.75 1148.83L539.78 1153.16L545.82 1153.99L551.85 1153.53L557.89 1153.16L563.93 1152.88L569.96 1152.88L576 1153.07L582.04 1153.25L588.07 1153.44L594.11 1153.8L600.15 1154.36L606.18 1154.82L612.22 1155.28L618.25 1155.65L624.29 1155.92L630.33 1156.11L636.36 1156.11L642.4 1156.11L648.44 1156.11L654.47 1156.11L660.51 1156.11L666.55 1156.11L672.58 1156.11L678.62 1156.11L684.65 1156.11L690.69 1156.11L696.73 1156.11L702.76 1156.11L708.8 1156.11L708.8 1156.2Z" fill="url(#hatchb)"/>
<polyline fill="none" stroke="#ff8000" stroke-width="1.4" stroke-linejoin="round" points="111.2,1156.2 117.24,1156.2 123.27,1156.2 129.31,1156.2 135.35,1156.2 141.38,1156.2 147.42,1156.2 153.45,1156.2 159.49,1156.2 165.53,1156.2 171.56,1156.2 177.6,1156.2 183.64,1156.2 189.67,1156.2 195.71,1155.28 201.75,1151.04 207.78,1141.27 213.82,1126.52 219.85,1109.01 225.89,1088.83 231.93,1064.96 237.96,1035.56 244,1006.35 250.04,977.41 256.07,947.64 262.11,911.15 268.15,875.3 274.18,840.55 280.22,810.14 286.25,781.75 292.29,759.36 298.33,742.49 304.36,727.01 310.4,718.81 316.44,717.52 322.47,726.27 328.51,742.49 334.55,765.17 340.58,793.83 346.62,827.65 352.65,863.68 358.69,901.47 364.73,937.97 370.76,971.97 376.8,1002.57 382.84,1028.74 388.87,1048.37 394.91,1064.5 400.95,1075.74 406.98,1082.56 413.02,1085.88 419.05,1086.43 425.09,1085.7 431.13,1083.39 437.16,1080.63 443.2,1078.97 449.24,1078.51 455.27,1079.15 461.31,1081 467.35,1084.22 473.38,1088.37 479.42,1093.62 485.45,1099.43 491.49,1105.79 497.53,1112.52 503.56,1119.43 509.6,1126.8 515.64,1134.36 521.67,1139.24 527.71,1143.48 533.75,1148 539.78,1152.7 545.82,1153.62 551.85,1152.51 557.89,1151.59 563.93,1151.04 569.96,1150.85 576,1151.04 582.04,1151.22 588.07,1151.68 594.11,1152.33 600.15,1153.16 606.18,1153.9 612.22,1154.54 618.25,1155.09 624.29,1155.46 630.33,1155.83 636.36,1156.11 642.4,1156.11 648.44,1156.11 654.47,1156.11 660.51,1156.11 666.55,1156.11 672.58,1156.11 678.62,1156.11 684.65,1156.11 690.69,1156.11 696.73,1156.11 702.76,1156.11 708.8,1156.11"/>
<g fill="#fff" stroke="#ff8000" stroke-width="1.3"><rect x="107.6" y="1152.6" width="7.2" height="7.2"/><rect x="113.64" y="1152.6" width="7.2" height="7.2"/><rect x="119.67" y="1152.6" width="7.2" height="7.2"/><rect x="125.71" y="1152.6" width="7.2" height="7.2"/><rect x="131.75" y="1152.6" width="7.2" height="7.2"/><rect x="137.78" y="1152.6" width="7.2" height="7.2"/><rect x="143.82" y="1152.6" width="7.2" height="7.2"/><rect x="149.85" y="1152.6" width="7.2" height="7.2"/><rect x="155.89" y="1152.6" width="7.2" height="7.2"/><rect x="161.93" y="1152.6" width="7.2" height="7.2"/><rect x="167.96" y="1152.6" width="7.2" height="7.2"/><rect x="174" y="1152.6" width="7.2" height="7.2"/><rect x="180.04" y="1152.6" width="7.2" height="7.2"/><rect x="186.07" y="1152.6" width="7.2" height="7.2"/><rect x="192.11" y="1151.68" width="7.2" height="7.2"/><rect x="198.15" y="1147.44" width="7.2" height="7.2"/><rect x="204.18" y="1137.67" width="7.2" height="7.2"/><rect x="210.22" y="1122.92" width="7.2" height="7.2"/><rect x="216.25" y="1105.41" width="7.2" height="7.2"/><rect x="222.29" y="1085.23" width="7.2" height="7.2"/><rect x="228.33" y="1061.36" width="7.2" height="7.2"/><rect x="234.36" y="1031.96" width="7.2" height="7.2"/><rect x="240.4" y="1002.75" width="7.2" height="7.2"/><rect x="246.44" y="973.81" width="7.2" height="7.2"/><rect x="252.47" y="944.04" width="7.2" height="7.2"/><rect x="258.51" y="907.55" width="7.2" height="7.2"/><rect x="264.55" y="871.7" width="7.2" height="7.2"/><rect x="270.58" y="836.95" width="7.2" height="7.2"/><rect x="276.62" y="806.54" width="7.2" height="7.2"/><rect x="282.65" y="778.15" width="7.2" height="7.2"/><rect x="288.69" y="755.76" width="7.2" height="7.2"/><rect x="294.73" y="738.89" width="7.2" height="7.2"/><rect x="300.76" y="723.41" width="7.2" height="7.2"/><rect x="306.8" y="715.21" width="7.2" height="7.2"/><rect x="312.84" y="713.92" width="7.2" height="7.2"/><rect x="318.87" y="722.67" width="7.2" height="7.2"/><rect x="324.91" y="738.89" width="7.2" height="7.2"/><rect x="330.95" y="761.57" width="7.2" height="7.2"/><rect x="336.98" y="790.23" width="7.2" height="7.2"/><rect x="343.02" y="824.05" width="7.2" height="7.2"/><rect x="349.05" y="860.08" width="7.2" height="7.2"/><rect x="355.09" y="897.87" width="7.2" height="7.2"/><rect x="361.13" y="934.37" width="7.2" height="7.2"/><rect x="367.16" y="968.37" width="7.2" height="7.2"/><rect x="373.2" y="998.97" width="7.2" height="7.2"/><rect x="379.24" y="1025.14" width="7.2" height="7.2"/><rect x="385.27" y="1044.77" width="7.2" height="7.2"/><rect x="391.31" y="1060.9" width="7.2" height="7.2"/><rect x="397.35" y="1072.14" width="7.2" height="7.2"/><rect x="403.38" y="1078.96" width="7.2" height="7.2"/><rect x="409.42" y="1082.28" width="7.2" height="7.2"/><rect x="415.45" y="1082.83" width="7.2" height="7.2"/><rect x="421.49" y="1082.1" width="7.2" height="7.2"/><rect x="427.53" y="1079.79" width="7.2" height="7.2"/><rect x="433.56" y="1077.03" width="7.2" height="7.2"/><rect x="439.6" y="1075.37" width="7.2" height="7.2"/><rect x="445.64" y="1074.91" width="7.2" height="7.2"/><rect x="451.67" y="1075.55" width="7.2" height="7.2"/><rect x="457.71" y="1077.4" width="7.2" height="7.2"/><rect x="463.75" y="1080.62" width="7.2" height="7.2"/><rect x="469.78" y="1084.77" width="7.2" height="7.2"/><rect x="475.82" y="1090.02" width="7.2" height="7.2"/><rect x="481.85" y="1095.83" width="7.2" height="7.2"/><rect x="487.89" y="1102.19" width="7.2" height="7.2"/><rect x="493.93" y="1108.92" width="7.2" height="7.2"/><rect x="499.96" y="1115.83" width="7.2" height="7.2"/><rect x="506" y="1123.2" width="7.2" height="7.2"/><rect x="512.04" y="1130.76" width="7.2" height="7.2"/><rect x="518.07" y="1135.64" width="7.2" height="7.2"/><rect x="524.11" y="1139.88" width="7.2" height="7.2"/><rect x="530.15" y="1144.4" width="7.2" height="7.2"/><rect x="536.18" y="1149.1" width="7.2" height="7.2"/><rect x="542.22" y="1150.02" width="7.2" height="7.2"/><rect x="548.25" y="1148.91" width="7.2" height="7.2"/><rect x="554.29" y="1147.99" width="7.2" height="7.2"/><rect x="560.33" y="1147.44" width="7.2" height="7.2"/><rect x="566.36" y="1147.25" width="7.2" height="7.2"/><rect x="572.4" y="1147.44" width="7.2" height="7.2"/><rect x="578.44" y="1147.62" width="7.2" height="7.2"/><rect x="584.47" y="1148.08" width="7.2" height="7.2"/><rect x="590.51" y="1148.73" width="7.2" height="7.2"/><rect x="596.55" y="1149.56" width="7.2" height="7.2"/><rect x="602.58" y="1150.3" width="7.2" height="7.2"/><rect x="608.62" y="1150.94" width="7.2" height="7.2"/><rect x="614.65" y="1151.49" width="7.2" height="7.2"/><rect x="620.69" y="1151.86" width="7.2" height="7.2"/><rect x="626.73" y="1152.23" width="7.2" height="7.2"/><rect x="632.76" y="1152.51" width="7.2" height="7.2"/><rect x="638.8" y="1152.51" width="7.2" height="7.2"/><rect x="644.84" y="1152.51" width="7.2" height="7.2"/><rect x="650.87" y="1152.51" width="7.2" height="7.2"/><rect x="656.91" y="1152.51" width="7.2" height="7.2"/><rect x="662.95" y="1152.51" width="7.2" height="7.2"/><rect x="668.98" y="1152.51" width="7.2" height="7.2"/><rect x="675.02" y="1152.51" width="7.2" height="7.2"/><rect x="681.05" y="1152.51" width="7.2" height="7.2"/><rect x="687.09" y="1152.51" width="7.2" height="7.2"/><rect x="693.13" y="1152.51" width="7.2" height="7.2"/><rect x="699.16" y="1152.51" width="7.2" height="7.2"/><rect x="705.2" y="1152.51" width="7.2" height="7.2"/></g>
<polyline fill="none" stroke="#ff00ff" stroke-width="1.4" stroke-linejoin="round" points="111.2,1156.2 117.24,1156.2 123.27,1156.2 129.31,1156.2 135.35,1156.2 141.38,1156.2 147.42,1156.2 153.45,1156.2 159.49,1156.2 165.53,1156.2 171.56,1156.2 177.6,1156.2 183.64,1156.2 189.67,1156.2 195.71,1156.2 201.75,1155.28 207.78,1151.59 213.82,1144.22 219.85,1133.44 225.89,1118.32 231.93,1099.25 237.96,1075.74 244,1048.37 250.04,1017.5 256.07,987.09 262.11,960.08 268.15,935.48 274.18,911.15 280.22,889.58 286.25,870.5 292.29,854.19 298.33,841.2 304.36,831.8 310.4,830.41 316.44,833.09 322.47,843.22 328.51,857.14 334.55,876.68 340.58,899.63 346.62,925.34 352.65,952.43 358.69,978.79 364.73,1004.32 370.76,1026.9 376.8,1046.81 382.84,1063.39 388.87,1076.67 394.91,1086.07 400.95,1092.33 406.98,1096.3 413.02,1097.77 419.05,1098.23 425.09,1097.95 431.13,1096.76 437.16,1095.37 443.2,1094.64 449.24,1094.82 455.27,1095.74 461.31,1097.59 467.35,1099.98 473.38,1102.93 479.42,1106.71 485.45,1110.77 491.49,1115.1 497.53,1119.8 503.56,1124.87 509.6,1130.12 515.64,1135.74 521.67,1141.73 527.71,1145.33 533.75,1148.83 539.78,1153.16 545.82,1153.99 551.85,1153.53 557.89,1153.16 563.93,1152.88 569.96,1152.88 576,1153.07 582.04,1153.25 588.07,1153.44 594.11,1153.8 600.15,1154.36 606.18,1154.82 612.22,1155.28 618.25,1155.65 624.29,1155.92 630.33,1156.11 636.36,1156.11 642.4,1156.11 648.44,1156.11 654.47,1156.11 660.51,1156.11 666.55,1156.11 672.58,1156.11 678.62,1156.11 684.65,1156.11 690.69,1156.11 696.73,1156.11 702.76,1156.11 708.8,1156.11"/>
<g fill="#fff" stroke="#ff00ff" stroke-width="1.5"><circle cx="111.2" cy="1156.2" r="3.8"/><circle cx="117.24" cy="1156.2" r="3.8"/><circle cx="123.27" cy="1156.2" r="3.8"/><circle cx="129.31" cy="1156.2" r="3.8"/><circle cx="135.35" cy="1156.2" r="3.8"/><circle cx="141.38" cy="1156.2" r="3.8"/><circle cx="147.42" cy="1156.2" r="3.8"/><circle cx="153.45" cy="1156.2" r="3.8"/><circle cx="159.49" cy="1156.2" r="3.8"/><circle cx="165.53" cy="1156.2" r="3.8"/><circle cx="171.56" cy="1156.2" r="3.8"/><circle cx="177.6" cy="1156.2" r="3.8"/><circle cx="183.64" cy="1156.2" r="3.8"/><circle cx="189.67" cy="1156.2" r="3.8"/><circle cx="195.71" cy="1156.2" r="3.8"/><circle cx="201.75" cy="1155.28" r="3.8"/><circle cx="207.78" cy="1151.59" r="3.8"/><circle cx="213.82" cy="1144.22" r="3.8"/><circle cx="219.85" cy="1133.44" r="3.8"/><circle cx="225.89" cy="1118.32" r="3.8"/><circle cx="231.93" cy="1099.25" r="3.8"/><circle cx="237.96" cy="1075.74" r="3.8"/><circle cx="244" cy="1048.37" r="3.8"/><circle cx="250.04" cy="1017.5" r="3.8"/><circle cx="256.07" cy="987.09" r="3.8"/><circle cx="262.11" cy="960.08" r="3.8"/><circle cx="268.15" cy="935.48" r="3.8"/><circle cx="274.18" cy="911.15" r="3.8"/><circle cx="280.22" cy="889.58" r="3.8"/><circle cx="286.25" cy="870.5" r="3.8"/><circle cx="292.29" cy="854.19" r="3.8"/><circle cx="298.33" cy="841.2" r="3.8"/><circle cx="304.36" cy="831.8" r="3.8"/><circle cx="310.4" cy="830.41" r="3.8"/><circle cx="316.44" cy="833.09" r="3.8"/><circle cx="322.47" cy="843.22" r="3.8"/><circle cx="328.51" cy="857.14" r="3.8"/><circle cx="334.55" cy="876.68" r="3.8"/><circle cx="340.58" cy="899.63" r="3.8"/><circle cx="346.62" cy="925.34" r="3.8"/><circle cx="352.65" cy="952.43" r="3.8"/><circle cx="358.69" cy="978.79" r="3.8"/><circle cx="364.73" cy="1004.32" r="3.8"/><circle cx="370.76" cy="1026.9" r="3.8"/><circle cx="376.8" cy="1046.81" r="3.8"/><circle cx="382.84" cy="1063.39" r="3.8"/><circle cx="388.87" cy="1076.67" r="3.8"/><circle cx="394.91" cy="1086.07" r="3.8"/><circle cx="400.95" cy="1092.33" r="3.8"/><circle cx="406.98" cy="1096.3" r="3.8"/><circle cx="413.02" cy="1097.77" r="3.8"/><circle cx="419.05" cy="1098.23" r="3.8"/><circle cx="425.09" cy="1097.95" r="3.8"/><circle cx="431.13" cy="1096.76" r="3.8"/><circle cx="437.16" cy="1095.37" r="3.8"/><circle cx="443.2" cy="1094.64" r="3.8"/><circle cx="449.24" cy="1094.82" r="3.8"/><circle cx="455.27" cy="1095.74" r="3.8"/><circle cx="461.31" cy="1097.59" r="3.8"/><circle cx="467.35" cy="1099.98" r="3.8"/><circle cx="473.38" cy="1102.93" r="3.8"/><circle cx="479.42" cy="1106.71" r="3.8"/><circle cx="485.45" cy="1110.77" r="3.8"/><circle cx="491.49" cy="1115.1" r="3.8"/><circle cx="497.53" cy="1119.8" r="3.8"/><circle cx="503.56" cy="1124.87" r="3.8"/><circle cx="509.6" cy="1130.12" r="3.8"/><circle cx="515.64" cy="1135.74" r="3.8"/><circle cx="521.67" cy="1141.73" r="3.8"/><circle cx="527.71" cy="1145.33" r="3.8"/><circle cx="533.75" cy="1148.83" r="3.8"/><circle cx="539.78" cy="1153.16" r="3.8"/><circle cx="545.82" cy="1153.99" r="3.8"/><circle cx="551.85" cy="1153.53" r="3.8"/><circle cx="557.89" cy="1153.16" r="3.8"/><circle cx="563.93" cy="1152.88" r="3.8"/><circle cx="569.96" cy="1152.88" r="3.8"/><circle cx="576" cy="1153.07" r="3.8"/><circle cx="582.04" cy="1153.25" r="3.8"/><circle cx="588.07" cy="1153.44" r="3.8"/><circle cx="594.11" cy="1153.8" r="3.8"/><circle cx="600.15" cy="1154.36" r="3.8"/><circle cx="606.18" cy="1154.82" r="3.8"/><circle cx="612.22" cy="1155.28" r="3.8"/><circle cx="618.25" cy="1155.65" r="3.8"/><circle cx="624.29" cy="1155.92" r="3.8"/><circle cx="630.33" cy="1156.11" r="3.8"/><circle cx="636.36" cy="1156.11" r="3.8"/><circle cx="642.4" cy="1156.11" r="3.8"/><circle cx="648.44" cy="1156.11" r="3.8"/><circle cx="654.47" cy="1156.11" r="3.8"/><circle cx="660.51" cy="1156.11" r="3.8"/><circle cx="666.55" cy="1156.11" r="3.8"/><circle cx="672.58" cy="1156.11" r="3.8"/><circle cx="678.62" cy="1156.11" r="3.8"/><circle cx="684.65" cy="1156.11" r="3.8"/><circle cx="690.69" cy="1156.11" r="3.8"/><circle cx="696.73" cy="1156.11" r="3.8"/><circle cx="702.76" cy="1156.11" r="3.8"/><circle cx="708.8" cy="1156.11" r="3.8"/></g>
<polyline fill="none" stroke="#ff00ff" stroke-width="1.3" stroke-linejoin="round" points="111.2,1156.2 117.24,1156.2 123.27,1156.2 129.31,1156.2 135.35,1156.2 141.38,1156.2 147.42,1156.2 153.45,1156.2 159.49,1156.2 165.53,1156.2 171.56,1156.2 177.6,1156.2 183.64,1156.2 189.67,1156.2 195.71,1156.2 201.75,1156.15 207.78,1155.92 213.82,1155.32 219.85,1154.18 225.89,1152.28 231.93,1149.43 237.96,1145.39 244,1139.99 250.04,1133.04 256.07,1124.56 262.11,1114.73 268.15,1103.66 274.18,1091.38 280.22,1078.01 286.25,1063.69 292.29,1048.55 298.33,1032.76 304.36,1016.5 310.4,1000.17 316.44,983.97 322.47,968.28 328.51,953.29 334.55,939.28 340.58,926.42 346.62,914.85 352.65,904.63 358.69,895.74 364.73,888.12 370.76,881.64 376.8,876.16 382.84,871.51 388.87,867.52 394.91,864 400.95,860.8 406.98,857.8 413.02,854.87 419.05,851.96 425.09,849.04 431.13,846.06 437.16,843.02 443.2,839.93 449.24,836.85 455.27,833.82 461.31,830.88 467.35,828.07 473.38,825.4 479.42,822.91 485.45,820.64 491.49,818.58 497.53,816.75 503.56,815.18 509.6,813.87 515.64,812.85 521.67,812.12 527.71,811.58 533.75,811.21 539.78,811.06 545.82,810.94 551.85,810.81 557.89,810.66 563.93,810.49 569.96,810.33 576,810.17 582.04,810.02 588.07,809.88 594.11,809.76 600.15,809.67 606.18,809.6 612.22,809.55 618.25,809.53 624.29,809.51 630.33,809.51 636.36,809.5 642.4,809.5 648.44,809.49 654.47,809.49 660.51,809.48 666.55,809.48 672.58,809.48 678.62,809.47 684.65,809.47 690.69,809.46 696.73,809.46 702.76,809.45 708.8,809.45"/>
<g fill="#fff" stroke="#ff00ff" stroke-width="1.4"><circle cx="111.2" cy="1156.2" r="3.8"/><circle cx="123.27" cy="1156.2" r="3.8"/><circle cx="135.35" cy="1156.2" r="3.8"/><circle cx="147.42" cy="1156.2" r="3.8"/><circle cx="159.49" cy="1156.2" r="3.8"/><circle cx="171.56" cy="1156.2" r="3.8"/><circle cx="183.64" cy="1156.2" r="3.8"/><circle cx="195.71" cy="1156.2" r="3.8"/><circle cx="207.78" cy="1155.92" r="3.8"/><circle cx="219.85" cy="1154.18" r="3.8"/><circle cx="231.93" cy="1149.43" r="3.8"/><circle cx="244" cy="1139.99" r="3.8"/><circle cx="256.07" cy="1124.56" r="3.8"/><circle cx="268.15" cy="1103.66" r="3.8"/><circle cx="280.22" cy="1078.01" r="3.8"/><circle cx="292.29" cy="1048.55" r="3.8"/><circle cx="304.36" cy="1016.5" r="3.8"/><circle cx="316.44" cy="983.97" r="3.8"/><circle cx="328.51" cy="953.29" r="3.8"/><circle cx="340.58" cy="926.42" r="3.8"/><circle cx="352.65" cy="904.63" r="3.8"/><circle cx="364.73" cy="888.12" r="3.8"/><circle cx="376.8" cy="876.16" r="3.8"/><circle cx="388.87" cy="867.52" r="3.8"/><circle cx="400.95" cy="860.8" r="3.8"/><circle cx="413.02" cy="854.87" r="3.8"/><circle cx="425.09" cy="849.04" r="3.8"/><circle cx="437.16" cy="843.02" r="3.8"/><circle cx="449.24" cy="836.85" r="3.8"/><circle cx="461.31" cy="830.88" r="3.8"/><circle cx="473.38" cy="825.4" r="3.8"/><circle cx="485.45" cy="820.64" r="3.8"/><circle cx="497.53" cy="816.75" r="3.8"/><circle cx="509.6" cy="813.87" r="3.8"/><circle cx="521.67" cy="812.12" r="3.8"/><circle cx="533.75" cy="811.21" r="3.8"/><circle cx="545.82" cy="810.94" r="3.8"/><circle cx="557.89" cy="810.66" r="3.8"/><circle cx="569.96" cy="810.33" r="3.8"/><circle cx="582.04" cy="810.02" r="3.8"/><circle cx="594.11" cy="809.76" r="3.8"/><circle cx="606.18" cy="809.6" r="3.8"/><circle cx="618.25" cy="809.53" r="3.8"/><circle cx="630.33" cy="809.51" r="3.8"/><circle cx="642.4" cy="809.5" r="3.8"/><circle cx="654.47" cy="809.49" r="3.8"/><circle cx="666.55" cy="809.48" r="3.8"/><circle cx="678.62" cy="809.47" r="3.8"/><circle cx="690.69" cy="809.46" r="3.8"/><circle cx="702.76" cy="809.45" r="3.8"/></g>
<polyline fill="none" stroke="#ff8000" stroke-width="1.3" stroke-linejoin="round" points="111.2,1156.2 117.24,1156.2 123.27,1156.2 129.31,1156.2 135.35,1156.2 141.38,1156.2 147.42,1156.2 153.45,1156.2 159.49,1156.2 165.53,1156.2 171.56,1156.2 177.6,1156.2 183.64,1156.2 189.67,1156.2 195.71,1156.15 201.75,1155.9 207.78,1155.15 213.82,1153.66 219.85,1151.3 225.89,1147.93 231.93,1143.36 237.96,1137.32 244,1129.82 250.04,1120.88 256.07,1110.44 262.11,1098.17 268.15,1084.11 274.18,1068.31 280.22,1050.99 286.25,1032.25 292.29,1012.39 298.33,991.68 304.36,970.2 310.4,948.31 316.44,926.35 322.47,904.83 328.51,884.13 334.55,864.55 340.58,846.42 346.62,829.97 352.65,815.33 358.69,802.58 364.73,791.66 370.76,782.44 376.8,774.75 382.84,768.37 388.87,762.97 394.91,758.38 400.95,754.36 406.98,750.67 413.02,747.15 419.05,743.66 425.09,740.13 431.13,736.49 437.16,732.7 443.2,728.84 449.24,724.95 455.27,721.09 461.31,717.33 467.35,713.73 473.38,710.33 479.42,707.2 485.45,704.36 491.49,701.84 497.53,699.65 503.56,697.81 509.6,696.34 515.64,695.24 521.67,694.39 527.71,693.76 533.75,693.35 539.78,693.17 545.82,693.04 551.85,692.86 557.89,692.63 563.93,692.37 569.96,692.1 576,691.84 582.04,691.59 588.07,691.37 594.11,691.18 600.15,691.02 606.18,690.91 612.22,690.82 618.25,690.77 624.29,690.73 630.33,690.71 636.36,690.71 642.4,690.7 648.44,690.7 654.47,690.7 660.51,690.69 666.55,690.69 672.58,690.68 678.62,690.68 684.65,690.67 690.69,690.67 696.73,690.66 702.76,690.66 708.8,690.65"/>
<g fill="#fff" stroke="#ff8000" stroke-width="1.3"><rect x="107.6" y="1152.6" width="7.2" height="7.2"/><rect x="119.67" y="1152.6" width="7.2" height="7.2"/><rect x="131.75" y="1152.6" width="7.2" height="7.2"/><rect x="143.82" y="1152.6" width="7.2" height="7.2"/><rect x="155.89" y="1152.6" width="7.2" height="7.2"/><rect x="167.96" y="1152.6" width="7.2" height="7.2"/><rect x="180.04" y="1152.6" width="7.2" height="7.2"/><rect x="192.11" y="1152.55" width="7.2" height="7.2"/><rect x="204.18" y="1151.55" width="7.2" height="7.2"/><rect x="216.25" y="1147.7" width="7.2" height="7.2"/><rect x="228.33" y="1139.76" width="7.2" height="7.2"/><rect x="240.4" y="1126.22" width="7.2" height="7.2"/><rect x="252.47" y="1106.84" width="7.2" height="7.2"/><rect x="264.55" y="1080.51" width="7.2" height="7.2"/><rect x="276.62" y="1047.39" width="7.2" height="7.2"/><rect x="288.69" y="1008.79" width="7.2" height="7.2"/><rect x="300.76" y="966.6" width="7.2" height="7.2"/><rect x="312.84" y="922.75" width="7.2" height="7.2"/><rect x="324.91" y="880.53" width="7.2" height="7.2"/><rect x="336.98" y="842.82" width="7.2" height="7.2"/><rect x="349.05" y="811.73" width="7.2" height="7.2"/><rect x="361.13" y="788.06" width="7.2" height="7.2"/><rect x="373.2" y="771.15" width="7.2" height="7.2"/><rect x="385.27" y="759.37" width="7.2" height="7.2"/><rect x="397.35" y="750.76" width="7.2" height="7.2"/><rect x="409.42" y="743.55" width="7.2" height="7.2"/><rect x="421.49" y="736.53" width="7.2" height="7.2"/><rect x="433.56" y="729.1" width="7.2" height="7.2"/><rect x="445.64" y="721.35" width="7.2" height="7.2"/><rect x="457.71" y="713.73" width="7.2" height="7.2"/><rect x="469.78" y="706.73" width="7.2" height="7.2"/><rect x="481.85" y="700.76" width="7.2" height="7.2"/><rect x="493.93" y="696.05" width="7.2" height="7.2"/><rect x="506" y="692.74" width="7.2" height="7.2"/><rect x="518.07" y="690.79" width="7.2" height="7.2"/><rect x="530.15" y="689.75" width="7.2" height="7.2"/><rect x="542.22" y="689.44" width="7.2" height="7.2"/><rect x="554.29" y="689.03" width="7.2" height="7.2"/><rect x="566.36" y="688.5" width="7.2" height="7.2"/><rect x="578.44" y="687.99" width="7.2" height="7.2"/><rect x="590.51" y="687.58" width="7.2" height="7.2"/><rect x="602.58" y="687.31" width="7.2" height="7.2"/><rect x="614.65" y="687.17" width="7.2" height="7.2"/><rect x="626.73" y="687.11" width="7.2" height="7.2"/><rect x="638.8" y="687.1" width="7.2" height="7.2"/><rect x="650.87" y="687.1" width="7.2" height="7.2"/><rect x="662.95" y="687.09" width="7.2" height="7.2"/><rect x="675.02" y="687.08" width="7.2" height="7.2"/><rect x="687.09" y="687.07" width="7.2" height="7.2"/><rect x="699.16" y="687.06" width="7.2" height="7.2"/></g>
</g>
<path d="M439.98 1156.2V1073.81H709.3V1156.2Z" fill="none" stroke="#008a00" stroke-width="2.8" stroke-dasharray="12.5 4 3 4"/>
<path d="M109.9 673.6H709.8" stroke="#000" stroke-width="2.6" fill="none"/>
<path d="M109.9 1156.2H709.8" stroke="#000" stroke-width="2.5" fill="none"/>
<path d="M111.2 673.6V1156.2" stroke="#000" stroke-width="2.3" fill="none"/>
<path d="M708.8 673.6V1156.2" stroke="#000" stroke-width="1.8" fill="none"/>
<path d="M111.2 1156.2v10.3M210.8 1156.2v10.3M210.8 673.6v9M310.4 1156.2v10.3M310.4 673.6v9M410 1156.2v10.3M410 673.6v9M509.6 1156.2v10.3M509.6 673.6v9M609.2 1156.2v10.3M609.2 673.6v9M708.8 1156.2v10.3M111.2 1156.2h-10M708.8 1156.2h9M111.2 1064.04h-10M708.8 1064.04h9M111.2 971.88h-10M708.8 971.88h9M111.2 879.72h-10M708.8 879.72h9M111.2 787.56h-10M708.8 787.56h9M111.2 695.4h-10M708.8 695.4h9" stroke="#000" stroke-width="2" fill="none"/>
<path d="M141.18 1156.2v5.5M141.18 673.6v4.5M158.72 1156.2v5.5M158.72 673.6v4.5M171.17 1156.2v5.5M171.17 673.6v4.5M180.82 1156.2v5.5M180.82 673.6v4.5M188.7 1156.2v5.5M188.7 673.6v4.5M195.37 1156.2v5.5M195.37 673.6v4.5M201.15 1156.2v5.5M201.15 673.6v4.5M206.24 1156.2v5.5M206.24 673.6v4.5M240.78 1156.2v5.5M240.78 673.6v4.5M258.32 1156.2v5.5M258.32 673.6v4.5M270.77 1156.2v5.5M270.77 673.6v4.5M280.42 1156.2v5.5M280.42 673.6v4.5M288.3 1156.2v5.5M288.3 673.6v4.5M294.97 1156.2v5.5M294.97 673.6v4.5M300.75 1156.2v5.5M300.75 673.6v4.5M305.84 1156.2v5.5M305.84 673.6v4.5M340.38 1156.2v5.5M340.38 673.6v4.5M357.92 1156.2v5.5M357.92 673.6v4.5M370.37 1156.2v5.5M370.37 673.6v4.5M380.02 1156.2v5.5M380.02 673.6v4.5M387.9 1156.2v5.5M387.9 673.6v4.5M394.57 1156.2v5.5M394.57 673.6v4.5M400.35 1156.2v5.5M400.35 673.6v4.5M405.44 1156.2v5.5M405.44 673.6v4.5M439.98 1156.2v5.5M439.98 673.6v4.5M457.52 1156.2v5.5M457.52 673.6v4.5M469.97 1156.2v5.5M469.97 673.6v4.5M479.62 1156.2v5.5M479.62 673.6v4.5M487.5 1156.2v5.5M487.5 673.6v4.5M494.17 1156.2v5.5M494.17 673.6v4.5M499.95 1156.2v5.5M499.95 673.6v4.5M505.04 1156.2v5.5M505.04 673.6v4.5M539.58 1156.2v5.5M539.58 673.6v4.5M557.12 1156.2v5.5M557.12 673.6v4.5M569.57 1156.2v5.5M569.57 673.6v4.5M579.22 1156.2v5.5M579.22 673.6v4.5M587.1 1156.2v5.5M587.1 673.6v4.5M593.77 1156.2v5.5M593.77 673.6v4.5M599.55 1156.2v5.5M599.55 673.6v4.5M604.64 1156.2v5.5M604.64 673.6v4.5M639.18 1156.2v5.5M639.18 673.6v4.5M656.72 1156.2v5.5M656.72 673.6v4.5M669.17 1156.2v5.5M669.17 673.6v4.5M678.82 1156.2v5.5M678.82 673.6v4.5M686.7 1156.2v5.5M686.7 673.6v4.5M693.37 1156.2v5.5M693.37 673.6v4.5M699.15 1156.2v5.5M699.15 673.6v4.5M704.24 1156.2v5.5M704.24 673.6v4.5M111.2 1110.12h-5M708.8 1110.12h5M111.2 1017.96h-5M708.8 1017.96h5M111.2 925.8h-5M708.8 925.8h5M111.2 833.64h-5M708.8 833.64h5M111.2 741.48h-5M708.8 741.48h5" stroke="#000" stroke-width="1.8" fill="none"/>
<text x="94.5" y="1162.2" font-size="20.5" text-anchor="end">0.0</text>
<text x="94.5" y="1070.04" font-size="20.5" text-anchor="end">0.1</text>
<text x="94.5" y="977.88" font-size="20.5" text-anchor="end">0.2</text>
<text x="94.5" y="885.72" font-size="20.5" text-anchor="end">0.3</text>
<text x="94.5" y="793.56" font-size="20.5" text-anchor="end">0.4</text>
<text x="94.5" y="701.4" font-size="20.5" text-anchor="end">0.5</text>
<text x="724.8" y="1162.2" font-size="20.5">0</text>
<text x="724.8" y="1070.04" font-size="20.5">2</text>
<text x="724.8" y="977.88" font-size="20.5">4</text>
<text x="724.8" y="885.72" font-size="20.5">6</text>
<text x="724.8" y="793.56" font-size="20.5">8</text>
<text x="724.8" y="701.4" font-size="20.5">10</text>
<text x="109.8" y="1187.8" font-size="20.5" text-anchor="middle">0.01</text>
<text x="209.4" y="1187.8" font-size="20.5" text-anchor="middle">0.1</text>
<text x="309" y="1187.8" font-size="20.5" text-anchor="middle">1</text>
<text x="408.6" y="1187.8" font-size="20.5" text-anchor="middle">10</text>
<text x="508.2" y="1187.8" font-size="20.5" text-anchor="middle">100</text>
<text x="607.8" y="1187.8" font-size="20.5" text-anchor="middle">1000</text>
<text x="707.4" y="1187.8" font-size="20.5" text-anchor="middle">10000</text>
<text transform="translate(49.2,910.3) rotate(-90)" x="-137.56" y="0" font-size="25" textLength="274.5" lengthAdjust="spacingAndGlyphs">Porosity component (%)</text>
<text transform="translate(775.8,914.3) rotate(-90)" x="-144.5" y="0" font-size="25" textLength="290.49" lengthAdjust="spacingAndGlyphs">Accumulative porosity (%)</text>
<text x="285.1" y="1228.3" font-size="25.2"><tspan font-style="italic">T</tspan><tspan font-size="16" font-style="italic" dy="7">2</tspan><tspan dy="-7"> relaxation time (ms)</tspan></text>
<rect x="112.4" y="645.9" width="594.4" height="26.1" fill="#ffff00" stroke="#6b6b00" stroke-width="1"/>
<path d="M410 645.9V672M509.6 645.9V672" stroke="#3a3a00" stroke-width="1.2"/>
<text x="215.39" y="665.7" font-size="19.4" textLength="96.57" lengthAdjust="spacingAndGlyphs">Micropores</text>
<text x="411.85" y="665.7" font-size="19.4" textLength="96.07" lengthAdjust="spacingAndGlyphs">Mesopores</text>
<text x="558.55" y="665.7" font-size="19.4" textLength="102.43" lengthAdjust="spacingAndGlyphs">Macropores</text>
<path d="M116 684.9H405.4" stroke="#000" stroke-width="1.2"/>
<path d="M112 684.9 L125 681.2 L121.1 684.9 L125 688.6 Z" fill="#000"/>
<path d="M409.4 684.9 L396.4 681.2 L400.3 684.9 L396.4 688.6 Z" fill="#000"/>
<path d="M414.8 684.9H505" stroke="#000" stroke-width="1.2"/>
<path d="M410.8 684.9 L423.8 681.2 L419.9 684.9 L423.8 688.6 Z" fill="#000"/>
<path d="M509 684.9 L496 681.2 L499.9 684.9 L496 688.6 Z" fill="#000"/>
<path d="M514.4 684.9H704.2" stroke="#000" stroke-width="1.2"/>
<path d="M510.4 684.9 L523.4 681.2 L519.5 684.9 L523.4 688.6 Z" fill="#000"/>
<path d="M708.2 684.9 L695.2 681.2 L699.1 684.9 L695.2 688.6 Z" fill="#000"/>
<rect x="532" y="700.5" width="166.8" height="43" fill="#000"/>
<text x="694.6" y="728.8" font-size="24.8" fill="#fff" text-anchor="end"><tspan font-family="Liberation Serif,serif" font-size="25.5">φ</tspan><tspan font-size="17" dy="6.7">post</tspan><tspan dy="-6.7">=10.103%</tspan></text>
<rect x="553" y="816" width="145.8" height="44" fill="#000"/>
<text x="694.6" y="844.3" font-size="24.8" fill="#fff" text-anchor="end"><tspan font-family="Liberation Serif,serif" font-size="25.5">φ</tspan><tspan font-size="17" dy="6.7">pre</tspan><tspan dy="-6.7">=7.525%</tspan></text>
<rect x="24.8" y="643.1" width="44.3" height="39.2" fill="#000"/>
<text x="46.55" y="673.5" font-size="29.3" text-anchor="middle" font-weight="bold" font-family="Liberation Serif,serif" fill="#fff">(b)</text>
<clipPath id="clra"><rect x="953.3" y="29.3" width="629.7" height="506.3"/></clipPath>
<g clip-path="url(#clra)">
<polyline fill="none" stroke="#ff00ff" stroke-width="1.9" stroke-linejoin="round" points="946.7,166.05 960.84,147.69 974.98,137 989.12,131.93 1003.26,133.06 1017.4,139.81 1031.54,153.32 1045.68,173.03 1059.82,196.67 1073.96,224.26 1088.1,256.35 1102.24,292.38 1116.38,330.67 1130.52,368.95 1144.66,409.49 1158.8,439.33 1172.94,460.72 1187.08,487.18 1201.22,511.39 1215.36,523.21 1229.5,517.58 1243.64,513.64 1257.78,510.83 1271.92,509.7 1286.06,510.27 1300.2,511.39 1314.34,512.52 1328.48,515.33 1342.62,518.71 1356.76,521.52 1370.9,524.34 1385.04,527.72 1399.18,530.53 1413.32,532.78 1427.46,534.47 1441.6,535.04 1455.74,535.04 1469.88,535.04 1484.02,535.04 1498.16,535.04 1512.3,535.04 1526.44,535.04 1540.58,535.04 1554.72,535.04 1568.86,535.04 1583,535.04"/>
<g fill="#fff" stroke="#ff00ff" stroke-width="1.4"><circle cx="946.7" cy="166.05" r="4.4"/><circle cx="960.84" cy="147.69" r="4.4"/><circle cx="974.98" cy="137" r="4.4"/><circle cx="989.12" cy="131.93" r="4.4"/><circle cx="1003.26" cy="133.06" r="4.4"/><circle cx="1017.4" cy="139.81" r="4.4"/><circle cx="1031.54" cy="153.32" r="4.4"/><circle cx="1045.68" cy="173.03" r="4.4"/><circle cx="1059.82" cy="196.67" r="4.4"/><circle cx="1073.96" cy="224.26" r="4.4"/><circle cx="1088.1" cy="256.35" r="4.4"/><circle cx="1102.24" cy="292.38" r="4.4"/><circle cx="1116.38" cy="330.67" r="4.4"/><circle cx="1130.52" cy="368.95" r="4.4"/><circle cx="1144.66" cy="409.49" r="4.4"/><circle cx="1158.8" cy="439.33" r="4.4"/><circle cx="1172.94" cy="460.72" r="4.4"/><circle cx="1187.08" cy="487.18" r="4.4"/><circle cx="1201.22" cy="511.39" r="4.4"/><circle cx="1215.36" cy="523.21" r="4.4"/><circle cx="1229.5" cy="517.58" r="4.4"/><circle cx="1243.64" cy="513.64" r="4.4"/><circle cx="1257.78" cy="510.83" r="4.4"/><circle cx="1271.92" cy="509.7" r="4.4"/><circle cx="1286.06" cy="510.27" r="4.4"/><circle cx="1300.2" cy="511.39" r="4.4"/><circle cx="1314.34" cy="512.52" r="4.4"/><circle cx="1328.48" cy="515.33" r="4.4"/><circle cx="1342.62" cy="518.71" r="4.4"/><circle cx="1356.76" cy="521.52" r="4.4"/><circle cx="1370.9" cy="524.34" r="4.4"/><circle cx="1385.04" cy="527.72" r="4.4"/><circle cx="1399.18" cy="530.53" r="4.4"/><circle cx="1413.32" cy="532.78" r="4.4"/><circle cx="1427.46" cy="534.47" r="4.4"/><circle cx="1441.6" cy="535.04" r="4.4"/><circle cx="1455.74" cy="535.04" r="4.4"/><circle cx="1469.88" cy="535.04" r="4.4"/><circle cx="1484.02" cy="535.04" r="4.4"/><circle cx="1498.16" cy="535.04" r="4.4"/><circle cx="1512.3" cy="535.04" r="4.4"/><circle cx="1526.44" cy="535.04" r="4.4"/><circle cx="1540.58" cy="535.04" r="4.4"/><circle cx="1554.72" cy="535.04" r="4.4"/><circle cx="1568.86" cy="535.04" r="4.4"/><circle cx="1583" cy="535.04" r="4.4"/></g>
<polyline fill="none" stroke="#ff8000" stroke-width="1.9" stroke-linejoin="round" points="946.7,105.17 960.84,101.53 974.98,97.59 989.12,97.02 1003.26,104.34 1017.4,117.29 1031.54,136.43 1045.68,160.64 1059.82,189.36 1073.96,221.45 1088.1,251.85 1102.24,282.25 1116.38,314.9 1130.52,348.68 1144.66,383.03 1158.8,419.06 1172.94,457.91 1187.08,485.49 1201.22,510.83 1215.36,522.65 1229.5,517.02 1243.64,513.08 1257.78,510.27 1271.92,509.14 1286.06,509.7 1300.2,510.83 1314.34,511.95 1328.48,514.77 1342.62,518.15 1356.76,520.96 1370.9,523.78 1385.04,527.15 1399.18,529.97 1413.32,532.22 1427.46,533.91 1441.6,535.04 1455.74,535.04 1469.88,535.04 1484.02,535.04 1498.16,535.04 1512.3,535.04 1526.44,535.04 1540.58,535.04 1554.72,535.04 1568.86,535.04 1583,535.04"/>
<g fill="#fff" stroke="#ff8000" stroke-width="1.4"><rect x="942.6" y="101.07" width="8.2" height="8.2"/><rect x="956.74" y="97.43" width="8.2" height="8.2"/><rect x="970.88" y="93.49" width="8.2" height="8.2"/><rect x="985.02" y="92.92" width="8.2" height="8.2"/><rect x="999.16" y="100.24" width="8.2" height="8.2"/><rect x="1013.3" y="113.19" width="8.2" height="8.2"/><rect x="1027.44" y="132.33" width="8.2" height="8.2"/><rect x="1041.58" y="156.54" width="8.2" height="8.2"/><rect x="1055.72" y="185.26" width="8.2" height="8.2"/><rect x="1069.86" y="217.35" width="8.2" height="8.2"/><rect x="1084" y="247.75" width="8.2" height="8.2"/><rect x="1098.14" y="278.15" width="8.2" height="8.2"/><rect x="1112.28" y="310.8" width="8.2" height="8.2"/><rect x="1126.42" y="344.58" width="8.2" height="8.2"/><rect x="1140.56" y="378.93" width="8.2" height="8.2"/><rect x="1154.7" y="414.96" width="8.2" height="8.2"/><rect x="1168.84" y="453.81" width="8.2" height="8.2"/><rect x="1182.98" y="481.39" width="8.2" height="8.2"/><rect x="1197.12" y="506.73" width="8.2" height="8.2"/><rect x="1211.26" y="518.55" width="8.2" height="8.2"/><rect x="1225.4" y="512.92" width="8.2" height="8.2"/><rect x="1239.54" y="508.98" width="8.2" height="8.2"/><rect x="1253.68" y="506.17" width="8.2" height="8.2"/><rect x="1267.82" y="505.04" width="8.2" height="8.2"/><rect x="1281.96" y="505.6" width="8.2" height="8.2"/><rect x="1296.1" y="506.73" width="8.2" height="8.2"/><rect x="1310.24" y="507.85" width="8.2" height="8.2"/><rect x="1324.38" y="510.67" width="8.2" height="8.2"/><rect x="1338.52" y="514.05" width="8.2" height="8.2"/><rect x="1352.66" y="516.86" width="8.2" height="8.2"/><rect x="1366.8" y="519.68" width="8.2" height="8.2"/><rect x="1380.94" y="523.05" width="8.2" height="8.2"/><rect x="1395.08" y="525.87" width="8.2" height="8.2"/><rect x="1409.22" y="528.12" width="8.2" height="8.2"/><rect x="1423.36" y="529.81" width="8.2" height="8.2"/><rect x="1437.5" y="530.94" width="8.2" height="8.2"/><rect x="1451.64" y="530.94" width="8.2" height="8.2"/><rect x="1465.78" y="530.94" width="8.2" height="8.2"/><rect x="1479.92" y="530.94" width="8.2" height="8.2"/><rect x="1494.06" y="530.94" width="8.2" height="8.2"/><rect x="1508.2" y="530.94" width="8.2" height="8.2"/><rect x="1522.34" y="530.94" width="8.2" height="8.2"/><rect x="1536.48" y="530.94" width="8.2" height="8.2"/><rect x="1550.62" y="530.94" width="8.2" height="8.2"/><rect x="1564.76" y="530.94" width="8.2" height="8.2"/><rect x="1578.9" y="530.94" width="8.2" height="8.2"/></g>
</g>
<rect x="953.3" y="29.3" width="629.7" height="506.3" fill="none" stroke="#000" stroke-width="2.4"/>
<path d="M953.3 535.6v10M1116.38 535.6v10M1349.69 535.6v10M1583 535.6v10M953.3 535.6h-10M953.3 423h-10M953.3 310.4h-10M953.3 197.8h-10M953.3 85.2h-10M994.38 535.6v5M1023.53 535.6v5M1046.14 535.6v5M1064.62 535.6v5M1080.24 535.6v5M1093.77 535.6v5M1105.7 535.6v5M1186.61 535.6v5M1227.7 535.6v5M1256.84 535.6v5M1279.46 535.6v5M1297.93 535.6v5M1313.55 535.6v5M1327.08 535.6v5M1339.01 535.6v5M1419.92 535.6v5M1461.01 535.6v5M1490.16 535.6v5M1512.77 535.6v5M1531.24 535.6v5M1546.86 535.6v5M1560.39 535.6v5M1572.32 535.6v5M953.3 479.3h-5M953.3 366.7h-5M953.3 254.1h-5M953.3 141.5h-5" stroke="#000" stroke-width="2.4" fill="none"/>
<text x="935.8" y="541.4" font-size="21" text-anchor="end">0.00</text>
<text x="935.8" y="428.8" font-size="21" text-anchor="end">0.02</text>
<text x="935.8" y="316.2" font-size="21" text-anchor="end">0.04</text>
<text x="935.8" y="203.6" font-size="21" text-anchor="end">0.06</text>
<text x="935.8" y="91" font-size="21" text-anchor="end">0.08</text>
<text x="953.3" y="568.9" font-size="21" text-anchor="middle">20</text>
<text x="1116.38" y="568.9" font-size="21" text-anchor="middle">100</text>
<text x="1349.69" y="568.9" font-size="21" text-anchor="middle">1000</text>
<text x="1583" y="568.9" font-size="21" text-anchor="middle">10000</text>
<text transform="translate(866.8,252.45) rotate(-90)" x="-144.62" y="0" font-size="26.4" textLength="288.67" lengthAdjust="spacingAndGlyphs">Porosity Component (%)</text>
<text x="1137.58" y="608.6" font-size="26.15"><tspan font-style="italic">T</tspan><tspan font-size="17" font-style="italic" dy="7.5">2</tspan><tspan dy="-7.5"> relaxation time (ms)</tspan></text>
<rect x="1194.5" y="54.6" width="367.5" height="62" fill="#000"/>
<rect x="1187" y="47.6" width="367.5" height="62" fill="#00bfff"/>
<path d="M1189.7 63.6h54.5" stroke="#ff00ff" stroke-width="2.4"/>
<circle cx="1216.9" cy="63.8" r="4.4" fill="#fff" stroke="#ff00ff" stroke-width="1.4"/>
<path d="M1189.7 93.6h54.5" stroke="#ff8000" stroke-width="2.4"/>
<rect x="1212.9" y="89.8" width="8.4" height="8.4" fill="#fff" stroke="#ff8000" stroke-width="1.4"/>
<text x="1249.6" y="71.9" font-size="23.7" textLength="300.98" lengthAdjust="spacingAndGlyphs">Before freeze-thaw treament</text>
<text x="1251" y="101.9" font-size="23.7" textLength="284.85" lengthAdjust="spacingAndGlyphs">After 20 freeze-thaw cycles</text>
<clipPath id="clrb"><rect x="953.2" y="646" width="629.8" height="506.6"/></clipPath>
<g clip-path="url(#clrb)">
<polyline fill="none" stroke="#ff00ff" stroke-width="1.9" stroke-linejoin="round" points="946.6,780.52 960.74,776.02 974.88,777.14 989.02,782.78 1003.16,794.06 1017.31,808.71 1031.45,826.75 1045.59,849.87 1059.73,874.67 1073.88,901.17 1088.02,929.92 1102.16,960.92 1116.3,993.06 1130.45,1027.45 1144.59,1064.09 1158.73,1086.08 1172.87,1107.5 1187.02,1134 1201.16,1139.07 1215.3,1136.25 1229.44,1134 1243.58,1132.3 1257.73,1132.3 1271.87,1133.43 1286.01,1134.56 1300.15,1135.69 1314.3,1137.94 1328.44,1141.32 1342.58,1144.14 1356.72,1146.96 1370.87,1149.22 1385.01,1150.91 1399.15,1152.04 1413.29,1152.04 1427.43,1152.04 1441.58,1152.04 1455.72,1152.04 1469.86,1152.04 1484,1152.04 1498.15,1152.04 1512.29,1152.04 1526.43,1152.04 1540.57,1152.04 1554.72,1152.04 1568.86,1152.04 1583,1152.04"/>
<g fill="#fff" stroke="#ff00ff" stroke-width="1.4"><circle cx="946.6" cy="780.52" r="4.4"/><circle cx="960.74" cy="776.02" r="4.4"/><circle cx="974.88" cy="777.14" r="4.4"/><circle cx="989.02" cy="782.78" r="4.4"/><circle cx="1003.16" cy="794.06" r="4.4"/><circle cx="1017.31" cy="808.71" r="4.4"/><circle cx="1031.45" cy="826.75" r="4.4"/><circle cx="1045.59" cy="849.87" r="4.4"/><circle cx="1059.73" cy="874.67" r="4.4"/><circle cx="1073.88" cy="901.17" r="4.4"/><circle cx="1088.02" cy="929.92" r="4.4"/><circle cx="1102.16" cy="960.92" r="4.4"/><circle cx="1116.3" cy="993.06" r="4.4"/><circle cx="1130.45" cy="1027.45" r="4.4"/><circle cx="1144.59" cy="1064.09" r="4.4"/><circle cx="1158.73" cy="1086.08" r="4.4"/><circle cx="1172.87" cy="1107.5" r="4.4"/><circle cx="1187.02" cy="1134" r="4.4"/><circle cx="1201.16" cy="1139.07" r="4.4"/><circle cx="1215.3" cy="1136.25" r="4.4"/><circle cx="1229.44" cy="1134" r="4.4"/><circle cx="1243.58" cy="1132.3" r="4.4"/><circle cx="1257.73" cy="1132.3" r="4.4"/><circle cx="1271.87" cy="1133.43" r="4.4"/><circle cx="1286.01" cy="1134.56" r="4.4"/><circle cx="1300.15" cy="1135.69" r="4.4"/><circle cx="1314.3" cy="1137.94" r="4.4"/><circle cx="1328.44" cy="1141.32" r="4.4"/><circle cx="1342.58" cy="1144.14" r="4.4"/><circle cx="1356.72" cy="1146.96" r="4.4"/><circle cx="1370.87" cy="1149.22" r="4.4"/><circle cx="1385.01" cy="1150.91" r="4.4"/><circle cx="1399.15" cy="1152.04" r="4.4"/><circle cx="1413.29" cy="1152.04" r="4.4"/><circle cx="1427.43" cy="1152.04" r="4.4"/><circle cx="1441.58" cy="1152.04" r="4.4"/><circle cx="1455.72" cy="1152.04" r="4.4"/><circle cx="1469.86" cy="1152.04" r="4.4"/><circle cx="1484" cy="1152.04" r="4.4"/><circle cx="1498.15" cy="1152.04" r="4.4"/><circle cx="1512.29" cy="1152.04" r="4.4"/><circle cx="1526.43" cy="1152.04" r="4.4"/><circle cx="1540.57" cy="1152.04" r="4.4"/><circle cx="1554.72" cy="1152.04" r="4.4"/><circle cx="1568.86" cy="1152.04" r="4.4"/><circle cx="1583" cy="1152.04" r="4.4"/></g>
<polyline fill="none" stroke="#ff8000" stroke-width="1.9" stroke-linejoin="round" points="946.6,690.33 960.74,680.18 974.88,677.36 989.02,681.31 1003.16,692.58 1017.31,712.31 1031.45,737.68 1045.59,769.81 1059.73,805.33 1073.88,844.23 1088.02,885.38 1102.16,927.66 1116.3,972.76 1130.45,1018.99 1144.59,1048.87 1158.73,1074.8 1172.87,1102.43 1187.02,1131.18 1201.16,1136.81 1215.3,1130.05 1229.44,1124.41 1243.58,1121.03 1257.73,1119.9 1271.87,1121.03 1286.01,1122.16 1300.15,1124.98 1314.3,1128.92 1328.44,1134 1342.58,1138.51 1356.72,1142.45 1370.87,1145.83 1385.01,1148.09 1399.15,1150.34 1413.29,1152.04 1427.43,1152.04 1441.58,1152.04 1455.72,1152.04 1469.86,1152.04 1484,1152.04 1498.15,1152.04 1512.29,1152.04 1526.43,1152.04 1540.57,1152.04 1554.72,1152.04 1568.86,1152.04 1583,1152.04"/>
<g fill="#fff" stroke="#ff8000" stroke-width="1.4"><rect x="942.5" y="686.23" width="8.2" height="8.2"/><rect x="956.64" y="676.08" width="8.2" height="8.2"/><rect x="970.78" y="673.26" width="8.2" height="8.2"/><rect x="984.92" y="677.21" width="8.2" height="8.2"/><rect x="999.06" y="688.48" width="8.2" height="8.2"/><rect x="1013.21" y="708.21" width="8.2" height="8.2"/><rect x="1027.35" y="733.58" width="8.2" height="8.2"/><rect x="1041.49" y="765.71" width="8.2" height="8.2"/><rect x="1055.63" y="801.23" width="8.2" height="8.2"/><rect x="1069.78" y="840.13" width="8.2" height="8.2"/><rect x="1083.92" y="881.28" width="8.2" height="8.2"/><rect x="1098.06" y="923.56" width="8.2" height="8.2"/><rect x="1112.2" y="968.66" width="8.2" height="8.2"/><rect x="1126.35" y="1014.89" width="8.2" height="8.2"/><rect x="1140.49" y="1044.77" width="8.2" height="8.2"/><rect x="1154.63" y="1070.7" width="8.2" height="8.2"/><rect x="1168.77" y="1098.33" width="8.2" height="8.2"/><rect x="1182.92" y="1127.08" width="8.2" height="8.2"/><rect x="1197.06" y="1132.71" width="8.2" height="8.2"/><rect x="1211.2" y="1125.95" width="8.2" height="8.2"/><rect x="1225.34" y="1120.31" width="8.2" height="8.2"/><rect x="1239.48" y="1116.93" width="8.2" height="8.2"/><rect x="1253.63" y="1115.8" width="8.2" height="8.2"/><rect x="1267.77" y="1116.93" width="8.2" height="8.2"/><rect x="1281.91" y="1118.06" width="8.2" height="8.2"/><rect x="1296.05" y="1120.88" width="8.2" height="8.2"/><rect x="1310.2" y="1124.82" width="8.2" height="8.2"/><rect x="1324.34" y="1129.9" width="8.2" height="8.2"/><rect x="1338.48" y="1134.41" width="8.2" height="8.2"/><rect x="1352.62" y="1138.35" width="8.2" height="8.2"/><rect x="1366.77" y="1141.73" width="8.2" height="8.2"/><rect x="1380.91" y="1143.99" width="8.2" height="8.2"/><rect x="1395.05" y="1146.24" width="8.2" height="8.2"/><rect x="1409.19" y="1147.94" width="8.2" height="8.2"/><rect x="1423.33" y="1147.94" width="8.2" height="8.2"/><rect x="1437.48" y="1147.94" width="8.2" height="8.2"/><rect x="1451.62" y="1147.94" width="8.2" height="8.2"/><rect x="1465.76" y="1147.94" width="8.2" height="8.2"/><rect x="1479.9" y="1147.94" width="8.2" height="8.2"/><rect x="1494.05" y="1147.94" width="8.2" height="8.2"/><rect x="1508.19" y="1147.94" width="8.2" height="8.2"/><rect x="1522.33" y="1147.94" width="8.2" height="8.2"/><rect x="1536.47" y="1147.94" width="8.2" height="8.2"/><rect x="1550.62" y="1147.94" width="8.2" height="8.2"/><rect x="1564.76" y="1147.94" width="8.2" height="8.2"/><rect x="1578.9" y="1147.94" width="8.2" height="8.2"/></g>
</g>
<rect x="953.2" y="646" width="629.8" height="506.6" fill="none" stroke="#000" stroke-width="2.4"/>
<path d="M953.2 1152.6v10M1116.3 1152.6v10M1349.65 1152.6v10M1583 1152.6v10M953.2 1152.6h-10M953.2 1039.85h-10M953.2 927.1h-10M953.2 814.35h-10M953.2 701.6h-10M994.29 1152.6v5M1023.44 1152.6v5M1046.06 1152.6v5M1064.54 1152.6v5M1080.16 1152.6v5M1093.69 1152.6v5M1105.63 1152.6v5M1186.55 1152.6v5M1227.64 1152.6v5M1256.79 1152.6v5M1279.41 1152.6v5M1297.88 1152.6v5M1313.51 1152.6v5M1327.04 1152.6v5M1338.97 1152.6v5M1419.9 1152.6v5M1460.99 1152.6v5M1490.14 1152.6v5M1512.76 1152.6v5M1531.23 1152.6v5M1546.85 1152.6v5M1560.39 1152.6v5M1572.32 1152.6v5M953.2 1096.22h-5M953.2 983.47h-5M953.2 870.72h-5M953.2 757.97h-5" stroke="#000" stroke-width="2.4" fill="none"/>
<text x="935.7" y="1158.4" font-size="21" text-anchor="end">0.00</text>
<text x="935.7" y="1045.65" font-size="21" text-anchor="end">0.02</text>
<text x="935.7" y="932.9" font-size="21" text-anchor="end">0.04</text>
<text x="935.7" y="820.15" font-size="21" text-anchor="end">0.06</text>
<text x="935.7" y="707.4" font-size="21" text-anchor="end">0.08</text>
<text x="953.2" y="1185.9" font-size="21" text-anchor="middle">20</text>
<text x="1116.3" y="1185.9" font-size="21" text-anchor="middle">100</text>
<text x="1349.65" y="1185.9" font-size="21" text-anchor="middle">1000</text>
<text x="1583" y="1185.9" font-size="21" text-anchor="middle">10000</text>
<text transform="translate(866.7,869.3) rotate(-90)" x="-141.62" y="0" font-size="26.4" textLength="282.61" lengthAdjust="spacingAndGlyphs">Porosity component (%)</text>
<text x="1137.5" y="1225.6" font-size="26.15"><tspan font-style="italic">T</tspan><tspan font-size="17" font-style="italic" dy="7.5">2</tspan><tspan dy="-7.5"> relaxation time (ms)</tspan></text>
<rect x="1193.5" y="671" width="367.5" height="62" fill="#000"/>
<rect x="1186" y="664" width="367.5" height="62" fill="#00bfff"/>
<path d="M1188.7 680h54.5" stroke="#ff00ff" stroke-width="2.4"/>
<circle cx="1215.9" cy="680.2" r="4.4" fill="#fff" stroke="#ff00ff" stroke-width="1.4"/>
<path d="M1188.7 710h54.5" stroke="#ff8000" stroke-width="2.4"/>
<rect x="1211.9" y="706.2" width="8.4" height="8.4" fill="#fff" stroke="#ff8000" stroke-width="1.4"/>
<text x="1248.6" y="688.3" font-size="23.7" textLength="300.98" lengthAdjust="spacingAndGlyphs">Before freeze-thaw treament</text>
<text x="1250" y="718.3" font-size="23.7" textLength="284.85" lengthAdjust="spacingAndGlyphs">After 40 freeze-thaw cycles</text>
<path d="M438.34 454.65L839.2 26" stroke="#00b050" stroke-width="2.2" fill="none"/>
<path d="M839.2 26L828.6 30.47" stroke="#00b050" stroke-width="1.9" fill="none"/>
<path d="M839.2 26L835.45 36.87" stroke="#00b050" stroke-width="1.9" fill="none"/>
<path d="M707.2 536.5L839.2 624" stroke="#00b050" stroke-width="2.2" fill="none"/>
<path d="M839.2 624L833.04 614.29" stroke="#00b050" stroke-width="1.9" fill="none"/>
<path d="M839.2 624L827.86 622.11" stroke="#00b050" stroke-width="1.9" fill="none"/>
<path d="M439.98 1073.81L839.2 642.4" stroke="#00b050" stroke-width="2.2" fill="none"/>
<path d="M839.2 642.4L828.63 646.92" stroke="#00b050" stroke-width="1.9" fill="none"/>
<path d="M839.2 642.4L835.51 653.29" stroke="#00b050" stroke-width="1.9" fill="none"/>
<path d="M708.8 1156.2L839.2 1241" stroke="#00b050" stroke-width="2.2" fill="none"/>
<path d="M839.2 1241L832.95 1231.34" stroke="#00b050" stroke-width="1.9" fill="none"/>
<path d="M839.2 1241L827.84 1239.21" stroke="#00b050" stroke-width="1.9" fill="none"/>
<line x1="318.7" y1="198" x2="318.7" y2="167.2" stroke="#ff0000" stroke-width="1.3"/>
<path d="M318.7 152.8Q321.22 166.72 324.3 176.8L318.7 170.56L313.1 176.8Q316.18 166.72 318.7 152.8Z" fill="#ff0000"/>
<line x1="983.1" y1="134.8" x2="983.1" y2="111.4" stroke="#ff0000" stroke-width="1.3"/>
<path d="M983.1 95.8Q985.67 110.88 988.8 121.8L983.1 115.04L977.4 121.8Q980.53 110.88 983.1 95.8Z" fill="#ff0000"/>
<line x1="1246.3" y1="282" x2="1246.3" y2="256.8" stroke="#ff0000" stroke-width="1.3"/>
<path d="M1246.3 241.2Q1248.87 256.28 1252 267.2L1246.3 260.44L1240.6 267.2Q1243.73 256.28 1246.3 241.2Z" fill="#ff0000"/>
<text x="1297.98" y="264.4" font-size="26.3" textLength="259.42" lengthAdjust="spacingAndGlyphs">Component increment</text>
<line x1="312.7" y1="833.41" x2="312.7" y2="731.9" stroke="#ff0000" stroke-width="1.3"/>
<path d="M312.7 717.5Q315.13 731.42 318.1 741.5L312.7 735.26L307.3 741.5Q310.27 731.42 312.7 717.5Z" fill="#ff0000"/>
<line x1="199.6" y1="1142.1" x2="171.8" y2="1142.1" stroke="#0000ff" stroke-width="1.2"/>
<path d="M158.6 1142.1Q171.36 1139.94 180.6 1137.3L174.88 1142.1L180.6 1146.9Q171.36 1144.26 158.6 1142.1Z" fill="#0000ff"/>
<line x1="974.5" y1="776.4" x2="974.5" y2="691.1" stroke="#ff0000" stroke-width="1.3"/>
<path d="M974.5 676.1Q977.11 690.6 980.3 701.1L974.5 694.6L968.7 701.1Q971.89 690.6 974.5 676.1Z" fill="#ff0000"/>
<line x1="1271.2" y1="1133.3" x2="1271.2" y2="1110.4" stroke="#ff0000" stroke-width="1.3"/>
<path d="M1271.2 1096Q1273.67 1109.92 1276.7 1120L1271.2 1113.76L1265.7 1120Q1268.73 1109.92 1271.2 1096Z" fill="#ff0000"/>
<line x1="1246.3" y1="899" x2="1246.3" y2="872.9" stroke="#ff0000" stroke-width="1.3"/>
<path d="M1246.3 857.3Q1248.87 872.38 1252 883.3L1246.3 876.54L1240.6 883.3Q1243.73 872.38 1246.3 857.3Z" fill="#ff0000"/>
<text x="1297.68" y="880.5" font-size="26.3" textLength="259.42" lengthAdjust="spacingAndGlyphs">Component increment</text>
<line x1="1271" y1="919.5" x2="1239.4" y2="919.5" stroke="#0000ff" stroke-width="1.2"/>
<path d="M1225 919.5Q1238.92 917.25 1249 914.5L1242.76 919.5L1249 924.5Q1238.92 921.75 1225 919.5Z" fill="#0000ff"/>
<text x="1306.89" y="928.5" font-size="26.3" textLength="239.36" lengthAdjust="spacingAndGlyphs">Expansion to the left</text>
</svg></body></html>
